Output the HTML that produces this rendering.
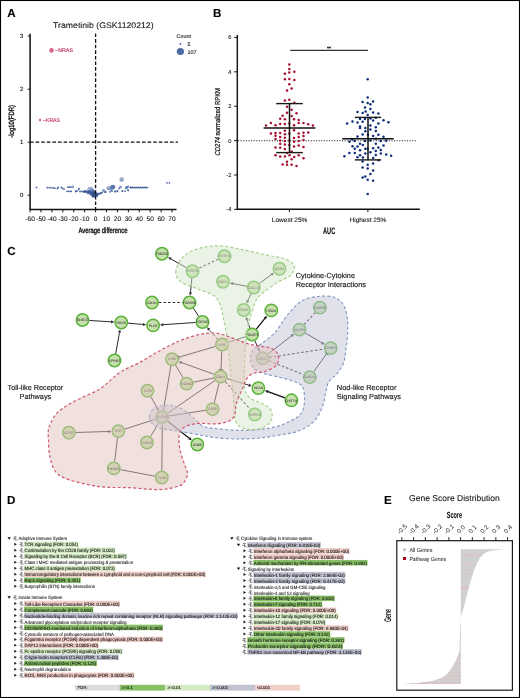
<!DOCTYPE html>
<html><head><meta charset="utf-8"><style>
html,body{margin:0;padding:0;background:#fff;overflow:hidden;width:520px;height:698px;}
svg{display:block;}
text{text-rendering:geometricPrecision;}
text{font-family:"Liberation Sans", sans-serif;}
</style></head><body>
<svg width="520" height="698" viewBox="0 0 520 698" font-family='"Liberation Sans", sans-serif' style="will-change:transform">
<rect x="0" y="0" width="520" height="698" fill="#fff"/>
<rect x="0.5" y="0.5" width="519" height="697" fill="none" stroke="#000" stroke-width="1.1"/>
<text x="7.20" y="17.30" font-size="11.6" fill="#000" stroke="#000" stroke-width="0.12" font-weight="bold">A</text>
<text x="53.10" y="27.90" font-size="8.2" fill="#111" stroke="#111" stroke-width="0.08" textLength="100.5" lengthAdjust="spacingAndGlyphs">Trametinib (GSK1120212)</text>
<line x1="30.10" y1="33.80" x2="30.10" y2="209.80" stroke="#2a2a2a" stroke-width="1.7"/>
<line x1="27.60" y1="36.00" x2="30.00" y2="36.00" stroke="#222" stroke-width="1.0"/>
<text x="23.40" y="38.10" font-size="6.0" fill="#222" stroke="#222" stroke-width="0.12" text-anchor="end">3</text>
<line x1="27.60" y1="89.20" x2="30.00" y2="89.20" stroke="#222" stroke-width="1.0"/>
<text x="23.40" y="91.30" font-size="6.0" fill="#222" stroke="#222" stroke-width="0.12" text-anchor="end">2</text>
<line x1="27.60" y1="142.20" x2="30.00" y2="142.20" stroke="#222" stroke-width="1.0"/>
<text x="23.40" y="144.30" font-size="6.0" fill="#222" stroke="#222" stroke-width="0.12" text-anchor="end">1</text>
<line x1="27.60" y1="195.20" x2="30.00" y2="195.20" stroke="#222" stroke-width="1.0"/>
<text x="23.40" y="197.30" font-size="6.0" fill="#222" stroke="#222" stroke-width="0.12" text-anchor="end">0</text>
<line x1="29.50" y1="209.40" x2="176.50" y2="209.40" stroke="#111" stroke-width="1.5"/>
<line x1="30.08" y1="209.50" x2="30.08" y2="212.30" stroke="#111" stroke-width="1.0"/>
<text x="30.08" y="221.40" font-size="6.6" fill="#222" stroke="#222" stroke-width="0.12" text-anchor="middle">-60</text>
<line x1="41.00" y1="209.50" x2="41.00" y2="212.30" stroke="#111" stroke-width="1.0"/>
<text x="41.00" y="221.40" font-size="6.6" fill="#222" stroke="#222" stroke-width="0.12" text-anchor="middle">-50</text>
<line x1="51.92" y1="209.50" x2="51.92" y2="212.30" stroke="#111" stroke-width="1.0"/>
<text x="51.92" y="221.40" font-size="6.6" fill="#222" stroke="#222" stroke-width="0.12" text-anchor="middle">-40</text>
<line x1="62.84" y1="209.50" x2="62.84" y2="212.30" stroke="#111" stroke-width="1.0"/>
<text x="62.84" y="221.40" font-size="6.6" fill="#222" stroke="#222" stroke-width="0.12" text-anchor="middle">-30</text>
<line x1="73.76" y1="209.50" x2="73.76" y2="212.30" stroke="#111" stroke-width="1.0"/>
<text x="73.76" y="221.40" font-size="6.6" fill="#222" stroke="#222" stroke-width="0.12" text-anchor="middle">-20</text>
<line x1="84.68" y1="209.50" x2="84.68" y2="212.30" stroke="#111" stroke-width="1.0"/>
<text x="84.68" y="221.40" font-size="6.6" fill="#222" stroke="#222" stroke-width="0.12" text-anchor="middle">-10</text>
<line x1="95.60" y1="209.50" x2="95.60" y2="212.30" stroke="#111" stroke-width="1.0"/>
<text x="95.60" y="221.40" font-size="6.6" fill="#222" stroke="#222" stroke-width="0.12" text-anchor="middle">0</text>
<line x1="106.52" y1="209.50" x2="106.52" y2="212.30" stroke="#111" stroke-width="1.0"/>
<text x="106.52" y="221.40" font-size="6.6" fill="#222" stroke="#222" stroke-width="0.12" text-anchor="middle">10</text>
<line x1="117.44" y1="209.50" x2="117.44" y2="212.30" stroke="#111" stroke-width="1.0"/>
<text x="117.44" y="221.40" font-size="6.6" fill="#222" stroke="#222" stroke-width="0.12" text-anchor="middle">20</text>
<line x1="128.36" y1="209.50" x2="128.36" y2="212.30" stroke="#111" stroke-width="1.0"/>
<text x="128.36" y="221.40" font-size="6.6" fill="#222" stroke="#222" stroke-width="0.12" text-anchor="middle">30</text>
<line x1="139.28" y1="209.50" x2="139.28" y2="212.30" stroke="#111" stroke-width="1.0"/>
<text x="139.28" y="221.40" font-size="6.6" fill="#222" stroke="#222" stroke-width="0.12" text-anchor="middle">40</text>
<line x1="150.20" y1="209.50" x2="150.20" y2="212.30" stroke="#111" stroke-width="1.0"/>
<text x="150.20" y="221.40" font-size="6.6" fill="#222" stroke="#222" stroke-width="0.12" text-anchor="middle">50</text>
<line x1="161.12" y1="209.50" x2="161.12" y2="212.30" stroke="#111" stroke-width="1.0"/>
<text x="161.12" y="221.40" font-size="6.6" fill="#222" stroke="#222" stroke-width="0.12" text-anchor="middle">60</text>
<line x1="172.04" y1="209.50" x2="172.04" y2="212.30" stroke="#111" stroke-width="1.0"/>
<text x="172.04" y="221.40" font-size="6.6" fill="#222" stroke="#222" stroke-width="0.12" text-anchor="middle">70</text>
<text x="78.40" y="233.40" font-size="7.8" fill="#111" stroke="#111" stroke-width="0.35" textLength="49.2" lengthAdjust="spacingAndGlyphs">Average difference</text>
<text transform="translate(14.4,121.3) rotate(-90)" font-size="7.6" text-anchor="middle" fill="#111" stroke="#111" stroke-width="0.35" textLength="32.8" lengthAdjust="spacingAndGlyphs">-log10(FDR)</text>
<text x="176.60" y="38.20" font-size="5.4" fill="#222" stroke="#222" stroke-width="0.12">Count</text>
<circle cx="180.40" cy="43.80" r="0.9" fill="#3d5a96"/>
<text x="187.60" y="46.00" font-size="5.4" fill="#222" stroke="#222" stroke-width="0.12">5</text>
<circle cx="180.40" cy="51.50" r="3.6" fill="#4f6ba3"/>
<text x="187.60" y="53.80" font-size="5.4" fill="#222" stroke="#222" stroke-width="0.12">107</text>
<circle cx="51.50" cy="50.40" r="2.3" fill="#d6678a"/>
<text x="55.20" y="52.40" font-size="5.3" fill="#c2325c" stroke="#c2325c" stroke-width="0.12" textLength="17.8" lengthAdjust="spacingAndGlyphs">–NRAS</text>
<circle cx="40.00" cy="120.00" r="1.2" fill="#d6678a"/>
<text x="43.10" y="122.00" font-size="5.3" fill="#c2325c" stroke="#c2325c" stroke-width="0.12" textLength="16.9" lengthAdjust="spacingAndGlyphs">–KRAS</text>
<line x1="131" y1="187.6" x2="147" y2="187.6" stroke="#4a67a2" stroke-width="0.8" stroke-opacity="0.8"/>
<circle cx="36.50" cy="187.50" r="0.9" fill="#3f5e9c" fill-opacity="0.9"/>
<circle cx="47.30" cy="187.70" r="0.9" fill="#3f5e9c" fill-opacity="0.9"/>
<circle cx="49.20" cy="187.70" r="0.9" fill="#3f5e9c" fill-opacity="0.9"/>
<circle cx="51.20" cy="187.70" r="0.9" fill="#3f5e9c" fill-opacity="0.9"/>
<circle cx="53.10" cy="187.90" r="0.9" fill="#3f5e9c" fill-opacity="0.9"/>
<circle cx="54.80" cy="188.20" r="0.9" fill="#3f5e9c" fill-opacity="0.9"/>
<circle cx="57.40" cy="188.50" r="0.9" fill="#3f5e9c" fill-opacity="0.9"/>
<circle cx="58.20" cy="187.50" r="0.9" fill="#3f5e9c" fill-opacity="0.9"/>
<circle cx="61.30" cy="187.50" r="0.9" fill="#3f5e9c" fill-opacity="0.9"/>
<circle cx="62.70" cy="188.50" r="0.9" fill="#3f5e9c" fill-opacity="0.9"/>
<circle cx="64.10" cy="189.10" r="0.9" fill="#3f5e9c" fill-opacity="0.9"/>
<circle cx="68.00" cy="187.20" r="0.9" fill="#3f5e9c" fill-opacity="0.9"/>
<circle cx="69.40" cy="187.20" r="0.9" fill="#3f5e9c" fill-opacity="0.9"/>
<circle cx="70.90" cy="187.20" r="0.9" fill="#3f5e9c" fill-opacity="0.9"/>
<circle cx="67.00" cy="191.30" r="0.9" fill="#3f5e9c" fill-opacity="0.9"/>
<circle cx="68.50" cy="191.30" r="0.9" fill="#3f5e9c" fill-opacity="0.9"/>
<circle cx="70.00" cy="191.30" r="0.9" fill="#3f5e9c" fill-opacity="0.9"/>
<circle cx="71.30" cy="191.30" r="0.9" fill="#3f5e9c" fill-opacity="0.9"/>
<circle cx="75.70" cy="191.50" r="0.9" fill="#3f5e9c" fill-opacity="0.9"/>
<circle cx="77.10" cy="191.10" r="0.9" fill="#3f5e9c" fill-opacity="0.9"/>
<circle cx="78.60" cy="189.60" r="0.9" fill="#3f5e9c" fill-opacity="0.9"/>
<circle cx="79.00" cy="188.60" r="0.9" fill="#3f5e9c" fill-opacity="0.9"/>
<circle cx="76.00" cy="191.20" r="0.9" fill="#3f5e9c" fill-opacity="0.9"/>
<circle cx="80.00" cy="191.50" r="0.9" fill="#3f5e9c" fill-opacity="0.9"/>
<circle cx="81.50" cy="191.40" r="0.9" fill="#3f5e9c" fill-opacity="0.9"/>
<circle cx="83.00" cy="191.60" r="0.9" fill="#3f5e9c" fill-opacity="0.9"/>
<circle cx="98.00" cy="193.40" r="0.9" fill="#3f5e9c" fill-opacity="0.9"/>
<circle cx="100.50" cy="192.90" r="0.9" fill="#3f5e9c" fill-opacity="0.9"/>
<circle cx="105.80" cy="192.00" r="0.9" fill="#3f5e9c" fill-opacity="0.9"/>
<circle cx="111.00" cy="190.00" r="0.9" fill="#3f5e9c" fill-opacity="0.9"/>
<circle cx="112.00" cy="191.00" r="0.9" fill="#3f5e9c" fill-opacity="0.9"/>
<circle cx="114.90" cy="191.50" r="0.9" fill="#3f5e9c" fill-opacity="0.9"/>
<circle cx="117.30" cy="191.00" r="0.9" fill="#3f5e9c" fill-opacity="0.9"/>
<circle cx="119.20" cy="188.60" r="0.9" fill="#3f5e9c" fill-opacity="0.9"/>
<circle cx="120.70" cy="187.10" r="0.9" fill="#3f5e9c" fill-opacity="0.9"/>
<circle cx="122.60" cy="191.00" r="0.9" fill="#3f5e9c" fill-opacity="0.9"/>
<circle cx="120.60" cy="187.10" r="0.9" fill="#3f5e9c" fill-opacity="0.9"/>
<circle cx="126.30" cy="187.10" r="0.9" fill="#3f5e9c" fill-opacity="0.9"/>
<circle cx="128.00" cy="186.50" r="0.9" fill="#3f5e9c" fill-opacity="0.9"/>
<circle cx="122.30" cy="191.10" r="0.9" fill="#3f5e9c" fill-opacity="0.9"/>
<circle cx="125.20" cy="191.10" r="0.9" fill="#3f5e9c" fill-opacity="0.9"/>
<circle cx="128.00" cy="190.00" r="0.9" fill="#3f5e9c" fill-opacity="0.9"/>
<circle cx="167.00" cy="182.80" r="0.9" fill="#3f5e9c" fill-opacity="0.9"/>
<circle cx="169.40" cy="182.80" r="0.9" fill="#3f5e9c" fill-opacity="0.9"/>
<circle cx="130.50" cy="187.40" r="0.8" fill="#3f5e9c" fill-opacity="0.9"/>
<circle cx="131.50" cy="187.70" r="0.8" fill="#3f5e9c" fill-opacity="0.9"/>
<circle cx="132.50" cy="187.40" r="0.8" fill="#3f5e9c" fill-opacity="0.9"/>
<circle cx="133.50" cy="187.70" r="0.8" fill="#3f5e9c" fill-opacity="0.9"/>
<circle cx="134.50" cy="187.40" r="0.8" fill="#3f5e9c" fill-opacity="0.9"/>
<circle cx="135.50" cy="187.70" r="0.8" fill="#3f5e9c" fill-opacity="0.9"/>
<circle cx="136.50" cy="187.40" r="0.8" fill="#3f5e9c" fill-opacity="0.9"/>
<circle cx="137.50" cy="187.70" r="0.8" fill="#3f5e9c" fill-opacity="0.9"/>
<circle cx="138.50" cy="187.40" r="0.8" fill="#3f5e9c" fill-opacity="0.9"/>
<circle cx="139.50" cy="187.70" r="0.8" fill="#3f5e9c" fill-opacity="0.9"/>
<circle cx="140.50" cy="187.40" r="0.8" fill="#3f5e9c" fill-opacity="0.9"/>
<circle cx="141.50" cy="187.70" r="0.8" fill="#3f5e9c" fill-opacity="0.9"/>
<circle cx="142.50" cy="187.40" r="0.8" fill="#3f5e9c" fill-opacity="0.9"/>
<circle cx="143.50" cy="187.70" r="0.8" fill="#3f5e9c" fill-opacity="0.9"/>
<circle cx="144.50" cy="187.40" r="0.8" fill="#3f5e9c" fill-opacity="0.9"/>
<circle cx="145.50" cy="187.70" r="0.8" fill="#3f5e9c" fill-opacity="0.9"/>
<circle cx="146.50" cy="187.40" r="0.8" fill="#3f5e9c" fill-opacity="0.9"/>
<circle cx="147.50" cy="187.70" r="0.8" fill="#3f5e9c" fill-opacity="0.9"/>
<circle cx="72.80" cy="186.90" r="1.4" fill="#6d86b8" fill-opacity="0.8"/>
<circle cx="84.60" cy="191.50" r="1.5" fill="#2f4f8e" fill-opacity="0.9"/>
<circle cx="86.50" cy="191.50" r="1.3" fill="#2f4f8e" fill-opacity="0.9"/>
<circle cx="90.40" cy="190.00" r="3.2" fill="#8ca0c8" fill-opacity="0.85"/>
<circle cx="92.30" cy="192.40" r="3.2" fill="#4d6aa3" fill-opacity="0.85"/>
<circle cx="94.20" cy="193.90" r="2.6" fill="#2b4a88" fill-opacity="0.9"/>
<circle cx="95.70" cy="194.80" r="2.0" fill="#27447f" fill-opacity="0.9"/>
<circle cx="103.80" cy="190.50" r="1.6" fill="#8ca0c8" fill-opacity="0.9"/>
<circle cx="108.70" cy="188.40" r="1.9" fill="#8ca0c8" fill-opacity="0.9"/>
<circle cx="113.00" cy="187.10" r="2.4" fill="#5b76ad" fill-opacity="0.9"/>
<circle cx="121.70" cy="179.60" r="2.3" fill="#8ca0c8" fill-opacity="0.9"/>
<circle cx="110.00" cy="188.00" r="1.2" fill="#8ca0c8" fill-opacity="0.9"/>
<circle cx="88.00" cy="192.60" r="1.6" fill="#2f4f8e" fill-opacity="0.8"/>
<circle cx="97.00" cy="195.50" r="1.2" fill="#2b4a88" fill-opacity="0.9"/>
<circle cx="97.50" cy="194.60" r="1.0" fill="#3a5a98" fill-opacity="0.9"/>
<circle cx="99.00" cy="194.00" r="1.0" fill="#3a5a98" fill-opacity="0.9"/>
<circle cx="100.50" cy="193.40" r="1.0" fill="#3a5a98" fill-opacity="0.9"/>
<circle cx="102.00" cy="192.80" r="1.0" fill="#3a5a98" fill-opacity="0.9"/>
<circle cx="103.50" cy="190.60" r="1.6" fill="#8ca0c8" fill-opacity="0.9"/>
<circle cx="105.00" cy="192.20" r="0.9" fill="#3a5a98" fill-opacity="0.9"/>
<circle cx="108.50" cy="188.30" r="2.0" fill="#8ca0c8" fill-opacity="0.9"/>
<circle cx="112.40" cy="187.20" r="2.3" fill="#5a78b0" fill-opacity="0.95"/>
<circle cx="110.00" cy="191.80" r="0.9" fill="#3a5a98" fill-opacity="0.9"/>
<circle cx="115.00" cy="191.40" r="0.9" fill="#3a5a98" fill-opacity="0.9"/>
<circle cx="117.40" cy="191.40" r="0.9" fill="#3a5a98" fill-opacity="0.9"/>
<circle cx="119.70" cy="187.50" r="1.3" fill="#8ca0c8" fill-opacity="0.9"/>
<circle cx="125.80" cy="188.30" r="0.9" fill="#3a5a98" fill-opacity="0.9"/>
<circle cx="127.00" cy="187.40" r="1.3" fill="#5a78b0" fill-opacity="0.9"/>
<circle cx="128.20" cy="190.60" r="0.8" fill="#3a5a98" fill-opacity="0.9"/>
<circle cx="130.50" cy="187.50" r="1.0" fill="#3a5a98" fill-opacity="0.9"/>
<circle cx="89.00" cy="191.80" r="1.4" fill="#2f4f8e" fill-opacity="0.85"/>
<circle cx="93.50" cy="195.50" r="2.2" fill="#2b4a88" fill-opacity="0.85"/>
<circle cx="91.00" cy="193.50" r="1.8" fill="#3a5a98" fill-opacity="0.85"/>
<line x1="95.60" y1="33.50" x2="95.60" y2="209.00" stroke="#111" stroke-width="1.3" stroke-dasharray="3.6,2"/>
<line x1="30.00" y1="142.20" x2="178.00" y2="142.20" stroke="#111" stroke-width="1.3" stroke-dasharray="3.6,2"/>
<text x="213.00" y="17.30" font-size="11.6" fill="#000" stroke="#000" stroke-width="0.12" font-weight="bold">B</text>
<line x1="237.30" y1="34.90" x2="237.30" y2="209.90" stroke="#1a1a1a" stroke-width="1.5"/>
<line x1="234.20" y1="37.46" x2="237.30" y2="37.46" stroke="#111" stroke-width="1.0"/>
<text x="231.40" y="39.46" font-size="5.7" fill="#222" stroke="#222" stroke-width="0.12" text-anchor="end">6</text>
<line x1="234.20" y1="71.84" x2="237.30" y2="71.84" stroke="#111" stroke-width="1.0"/>
<text x="231.40" y="73.84" font-size="5.7" fill="#222" stroke="#222" stroke-width="0.12" text-anchor="end">4</text>
<line x1="234.20" y1="106.22" x2="237.30" y2="106.22" stroke="#111" stroke-width="1.0"/>
<text x="231.40" y="108.22" font-size="5.7" fill="#222" stroke="#222" stroke-width="0.12" text-anchor="end">2</text>
<line x1="234.20" y1="140.60" x2="237.30" y2="140.60" stroke="#111" stroke-width="1.0"/>
<text x="231.40" y="142.60" font-size="5.7" fill="#222" stroke="#222" stroke-width="0.12" text-anchor="end">0</text>
<line x1="234.20" y1="174.98" x2="237.30" y2="174.98" stroke="#111" stroke-width="1.0"/>
<text x="231.40" y="176.98" font-size="5.7" fill="#222" stroke="#222" stroke-width="0.12" text-anchor="end">-2</text>
<line x1="234.20" y1="209.36" x2="237.30" y2="209.36" stroke="#111" stroke-width="1.0"/>
<text x="231.40" y="211.36" font-size="5.7" fill="#222" stroke="#222" stroke-width="0.12" text-anchor="end">-4</text>
<line x1="236.80" y1="209.30" x2="419.80" y2="209.30" stroke="#111" stroke-width="1.5"/>
<line x1="289.40" y1="209.30" x2="289.40" y2="212.00" stroke="#111" stroke-width="1.0"/>
<line x1="367.90" y1="209.30" x2="367.90" y2="212.00" stroke="#111" stroke-width="1.0"/>
<text x="289.60" y="221.60" font-size="6.3" fill="#222" stroke="#222" stroke-width="0.12" text-anchor="middle" textLength="35.5" lengthAdjust="spacingAndGlyphs">Lowest 25%</text>
<text x="367.90" y="221.60" font-size="6.3" fill="#222" stroke="#222" stroke-width="0.12" text-anchor="middle" textLength="36.8" lengthAdjust="spacingAndGlyphs">Highest 25%</text>
<text x="323.00" y="233.70" font-size="9.3" fill="#111" stroke="#111" stroke-width="0.12" font-weight="bold" textLength="12.2" lengthAdjust="spacingAndGlyphs">AUC</text>
<text transform="translate(219.8,121.7) rotate(-90)" font-size="7.2" text-anchor="middle" fill="#111" stroke="#111" stroke-width="0.25" textLength="67.4" lengthAdjust="spacingAndGlyphs"><tspan font-style="italic">CD274</tspan> normalized RPKM</text>
<line x1="238.00" y1="140.80" x2="416.50" y2="140.80" stroke="#222" stroke-width="1.1" stroke-dasharray="1.1,1.5"/>
<line x1="290.20" y1="50.40" x2="368.00" y2="50.40" stroke="#333" stroke-width="1.2"/>
<text x="329.00" y="49.60" font-size="5.0" fill="#222" stroke="#222" stroke-width="0.3" text-anchor="middle">**</text>
<circle cx="289.30" cy="64.40" r="1.25" fill="#a50e2e"/>
<circle cx="289.30" cy="69.10" r="1.25" fill="#a50e2e"/>
<circle cx="289.30" cy="72.50" r="1.25" fill="#a50e2e"/>
<circle cx="284.90" cy="73.80" r="1.25" fill="#a50e2e"/>
<circle cx="294.30" cy="71.80" r="1.25" fill="#a50e2e"/>
<circle cx="284.90" cy="79.20" r="1.25" fill="#a50e2e"/>
<circle cx="289.30" cy="79.00" r="1.25" fill="#a50e2e"/>
<circle cx="294.30" cy="79.90" r="1.25" fill="#a50e2e"/>
<circle cx="289.30" cy="84.30" r="1.25" fill="#a50e2e"/>
<circle cx="287.00" cy="90.40" r="1.25" fill="#a50e2e"/>
<circle cx="291.60" cy="88.60" r="1.25" fill="#a50e2e"/>
<circle cx="284.90" cy="100.50" r="1.25" fill="#a50e2e"/>
<circle cx="289.30" cy="99.80" r="1.25" fill="#a50e2e"/>
<circle cx="294.30" cy="102.80" r="1.25" fill="#a50e2e"/>
<circle cx="287.00" cy="106.70" r="1.25" fill="#a50e2e"/>
<circle cx="291.60" cy="109.70" r="1.25" fill="#a50e2e"/>
<circle cx="287.00" cy="112.80" r="1.25" fill="#a50e2e"/>
<circle cx="296.50" cy="113.20" r="1.25" fill="#a50e2e"/>
<circle cx="282.60" cy="115.70" r="1.25" fill="#a50e2e"/>
<circle cx="291.60" cy="115.90" r="1.25" fill="#a50e2e"/>
<circle cx="280.20" cy="118.80" r="1.25" fill="#a50e2e"/>
<circle cx="284.90" cy="119.20" r="1.25" fill="#a50e2e"/>
<circle cx="294.00" cy="119.20" r="1.25" fill="#a50e2e"/>
<circle cx="298.70" cy="119.90" r="1.25" fill="#a50e2e"/>
<circle cx="270.90" cy="122.90" r="1.25" fill="#a50e2e"/>
<circle cx="275.50" cy="125.20" r="1.25" fill="#a50e2e"/>
<circle cx="280.20" cy="124.00" r="1.25" fill="#a50e2e"/>
<circle cx="284.90" cy="124.00" r="1.25" fill="#a50e2e"/>
<circle cx="289.30" cy="123.60" r="1.25" fill="#a50e2e"/>
<circle cx="294.00" cy="125.20" r="1.25" fill="#a50e2e"/>
<circle cx="298.70" cy="122.90" r="1.25" fill="#a50e2e"/>
<circle cx="303.50" cy="122.90" r="1.25" fill="#a50e2e"/>
<circle cx="308.20" cy="124.20" r="1.25" fill="#a50e2e"/>
<circle cx="312.90" cy="125.60" r="1.25" fill="#a50e2e"/>
<circle cx="266.00" cy="125.60" r="1.25" fill="#a50e2e"/>
<circle cx="284.90" cy="130.70" r="1.25" fill="#a50e2e"/>
<circle cx="294.00" cy="130.30" r="1.25" fill="#a50e2e"/>
<circle cx="270.90" cy="133.60" r="1.25" fill="#a50e2e"/>
<circle cx="275.50" cy="133.00" r="1.25" fill="#a50e2e"/>
<circle cx="280.20" cy="133.00" r="1.25" fill="#a50e2e"/>
<circle cx="284.90" cy="134.30" r="1.25" fill="#a50e2e"/>
<circle cx="289.30" cy="133.60" r="1.25" fill="#a50e2e"/>
<circle cx="298.70" cy="133.60" r="1.25" fill="#a50e2e"/>
<circle cx="303.50" cy="132.70" r="1.25" fill="#a50e2e"/>
<circle cx="308.20" cy="132.60" r="1.25" fill="#a50e2e"/>
<circle cx="275.50" cy="135.70" r="1.25" fill="#a50e2e"/>
<circle cx="280.20" cy="137.00" r="1.25" fill="#a50e2e"/>
<circle cx="284.90" cy="137.70" r="1.25" fill="#a50e2e"/>
<circle cx="294.00" cy="138.00" r="1.25" fill="#a50e2e"/>
<circle cx="298.70" cy="137.00" r="1.25" fill="#a50e2e"/>
<circle cx="303.50" cy="136.00" r="1.25" fill="#a50e2e"/>
<circle cx="275.50" cy="139.00" r="1.25" fill="#a50e2e"/>
<circle cx="280.20" cy="140.40" r="1.25" fill="#a50e2e"/>
<circle cx="284.90" cy="141.00" r="1.25" fill="#a50e2e"/>
<circle cx="289.30" cy="140.40" r="1.25" fill="#a50e2e"/>
<circle cx="294.00" cy="141.70" r="1.25" fill="#a50e2e"/>
<circle cx="298.70" cy="141.00" r="1.25" fill="#a50e2e"/>
<circle cx="303.50" cy="140.10" r="1.25" fill="#a50e2e"/>
<circle cx="280.20" cy="143.70" r="1.25" fill="#a50e2e"/>
<circle cx="284.90" cy="144.40" r="1.25" fill="#a50e2e"/>
<circle cx="289.30" cy="145.10" r="1.25" fill="#a50e2e"/>
<circle cx="294.00" cy="146.40" r="1.25" fill="#a50e2e"/>
<circle cx="298.70" cy="145.50" r="1.25" fill="#a50e2e"/>
<circle cx="275.50" cy="147.40" r="1.25" fill="#a50e2e"/>
<circle cx="280.20" cy="147.80" r="1.25" fill="#a50e2e"/>
<circle cx="284.90" cy="149.10" r="1.25" fill="#a50e2e"/>
<circle cx="303.50" cy="147.10" r="1.25" fill="#a50e2e"/>
<circle cx="291.60" cy="151.40" r="1.25" fill="#a50e2e"/>
<circle cx="287.00" cy="153.10" r="1.25" fill="#a50e2e"/>
<circle cx="275.50" cy="155.30" r="1.25" fill="#a50e2e"/>
<circle cx="280.20" cy="156.60" r="1.25" fill="#a50e2e"/>
<circle cx="284.90" cy="156.60" r="1.25" fill="#a50e2e"/>
<circle cx="289.50" cy="155.30" r="1.25" fill="#a50e2e"/>
<circle cx="294.20" cy="157.10" r="1.25" fill="#a50e2e"/>
<circle cx="298.70" cy="155.30" r="1.25" fill="#a50e2e"/>
<circle cx="303.50" cy="158.20" r="1.25" fill="#a50e2e"/>
<circle cx="291.60" cy="159.20" r="1.25" fill="#a50e2e"/>
<circle cx="287.00" cy="161.80" r="1.25" fill="#a50e2e"/>
<circle cx="282.60" cy="164.40" r="1.25" fill="#a50e2e"/>
<circle cx="287.00" cy="164.80" r="1.25" fill="#a50e2e"/>
<circle cx="291.60" cy="164.80" r="1.25" fill="#a50e2e"/>
<circle cx="296.50" cy="165.90" r="1.25" fill="#a50e2e"/>
<circle cx="367.70" cy="79.20" r="1.25" fill="#0e2f78"/>
<circle cx="367.70" cy="97.60" r="1.25" fill="#0e2f78"/>
<circle cx="362.60" cy="101.90" r="1.25" fill="#0e2f78"/>
<circle cx="367.70" cy="103.00" r="1.25" fill="#0e2f78"/>
<circle cx="370.40" cy="104.30" r="1.25" fill="#0e2f78"/>
<circle cx="373.10" cy="101.40" r="1.25" fill="#0e2f78"/>
<circle cx="365.00" cy="107.40" r="1.25" fill="#0e2f78"/>
<circle cx="370.40" cy="109.00" r="1.25" fill="#0e2f78"/>
<circle cx="357.50" cy="112.10" r="1.25" fill="#0e2f78"/>
<circle cx="362.60" cy="113.10" r="1.25" fill="#0e2f78"/>
<circle cx="365.60" cy="111.50" r="1.25" fill="#0e2f78"/>
<circle cx="373.10" cy="112.40" r="1.25" fill="#0e2f78"/>
<circle cx="367.70" cy="115.10" r="1.25" fill="#0e2f78"/>
<circle cx="378.40" cy="113.50" r="1.25" fill="#0e2f78"/>
<circle cx="375.80" cy="117.80" r="1.25" fill="#0e2f78"/>
<circle cx="360.00" cy="119.10" r="1.25" fill="#0e2f78"/>
<circle cx="365.00" cy="119.10" r="1.25" fill="#0e2f78"/>
<circle cx="370.40" cy="118.50" r="1.25" fill="#0e2f78"/>
<circle cx="352.50" cy="121.40" r="1.25" fill="#0e2f78"/>
<circle cx="357.50" cy="122.50" r="1.25" fill="#0e2f78"/>
<circle cx="362.60" cy="121.80" r="1.25" fill="#0e2f78"/>
<circle cx="373.10" cy="120.50" r="1.25" fill="#0e2f78"/>
<circle cx="383.50" cy="120.20" r="1.25" fill="#0e2f78"/>
<circle cx="347.10" cy="123.60" r="1.25" fill="#0e2f78"/>
<circle cx="378.40" cy="123.60" r="1.25" fill="#0e2f78"/>
<circle cx="388.50" cy="122.20" r="1.25" fill="#0e2f78"/>
<circle cx="370.40" cy="125.50" r="1.25" fill="#0e2f78"/>
<circle cx="360.00" cy="126.50" r="1.25" fill="#0e2f78"/>
<circle cx="360.00" cy="128.10" r="1.25" fill="#0e2f78"/>
<circle cx="365.30" cy="127.90" r="1.25" fill="#0e2f78"/>
<circle cx="375.80" cy="127.20" r="1.25" fill="#0e2f78"/>
<circle cx="370.40" cy="129.60" r="1.25" fill="#0e2f78"/>
<circle cx="365.30" cy="131.20" r="1.25" fill="#0e2f78"/>
<circle cx="375.80" cy="131.00" r="1.25" fill="#0e2f78"/>
<circle cx="362.60" cy="134.40" r="1.25" fill="#0e2f78"/>
<circle cx="368.00" cy="134.70" r="1.25" fill="#0e2f78"/>
<circle cx="378.40" cy="134.70" r="1.25" fill="#0e2f78"/>
<circle cx="357.50" cy="136.50" r="1.25" fill="#0e2f78"/>
<circle cx="373.10" cy="136.00" r="1.25" fill="#0e2f78"/>
<circle cx="383.50" cy="136.70" r="1.25" fill="#0e2f78"/>
<circle cx="352.10" cy="139.20" r="1.25" fill="#0e2f78"/>
<circle cx="375.80" cy="138.70" r="1.25" fill="#0e2f78"/>
<circle cx="349.40" cy="141.80" r="1.25" fill="#0e2f78"/>
<circle cx="354.80" cy="141.00" r="1.25" fill="#0e2f78"/>
<circle cx="365.00" cy="141.00" r="1.25" fill="#0e2f78"/>
<circle cx="370.40" cy="140.50" r="1.25" fill="#0e2f78"/>
<circle cx="380.80" cy="141.00" r="1.25" fill="#0e2f78"/>
<circle cx="386.20" cy="140.80" r="1.25" fill="#0e2f78"/>
<circle cx="360.00" cy="143.70" r="1.25" fill="#0e2f78"/>
<circle cx="352.50" cy="146.20" r="1.25" fill="#0e2f78"/>
<circle cx="357.50" cy="146.40" r="1.25" fill="#0e2f78"/>
<circle cx="362.90" cy="145.10" r="1.25" fill="#0e2f78"/>
<circle cx="375.80" cy="143.70" r="1.25" fill="#0e2f78"/>
<circle cx="383.50" cy="145.50" r="1.25" fill="#0e2f78"/>
<circle cx="354.80" cy="148.80" r="1.25" fill="#0e2f78"/>
<circle cx="365.30" cy="148.80" r="1.25" fill="#0e2f78"/>
<circle cx="373.10" cy="148.20" r="1.25" fill="#0e2f78"/>
<circle cx="378.40" cy="147.50" r="1.25" fill="#0e2f78"/>
<circle cx="380.80" cy="149.90" r="1.25" fill="#0e2f78"/>
<circle cx="360.00" cy="150.20" r="1.25" fill="#0e2f78"/>
<circle cx="367.70" cy="148.80" r="1.25" fill="#0e2f78"/>
<circle cx="375.80" cy="150.90" r="1.25" fill="#0e2f78"/>
<circle cx="349.40" cy="153.10" r="1.25" fill="#0e2f78"/>
<circle cx="354.80" cy="152.90" r="1.25" fill="#0e2f78"/>
<circle cx="365.30" cy="153.60" r="1.25" fill="#0e2f78"/>
<circle cx="370.40" cy="152.20" r="1.25" fill="#0e2f78"/>
<circle cx="380.80" cy="153.60" r="1.25" fill="#0e2f78"/>
<circle cx="386.20" cy="154.50" r="1.25" fill="#0e2f78"/>
<circle cx="344.40" cy="156.20" r="1.25" fill="#0e2f78"/>
<circle cx="360.00" cy="155.30" r="1.25" fill="#0e2f78"/>
<circle cx="375.80" cy="154.90" r="1.25" fill="#0e2f78"/>
<circle cx="391.10" cy="155.80" r="1.25" fill="#0e2f78"/>
<circle cx="357.50" cy="157.20" r="1.25" fill="#0e2f78"/>
<circle cx="362.90" cy="157.60" r="1.25" fill="#0e2f78"/>
<circle cx="373.10" cy="158.00" r="1.25" fill="#0e2f78"/>
<circle cx="378.50" cy="160.30" r="1.25" fill="#0e2f78"/>
<circle cx="362.60" cy="161.60" r="1.25" fill="#0e2f78"/>
<circle cx="373.10" cy="163.40" r="1.25" fill="#0e2f78"/>
<circle cx="367.70" cy="164.70" r="1.25" fill="#0e2f78"/>
<circle cx="362.60" cy="167.40" r="1.25" fill="#0e2f78"/>
<circle cx="367.70" cy="168.40" r="1.25" fill="#0e2f78"/>
<circle cx="373.10" cy="170.40" r="1.25" fill="#0e2f78"/>
<circle cx="370.40" cy="174.00" r="1.25" fill="#0e2f78"/>
<circle cx="362.60" cy="177.40" r="1.25" fill="#0e2f78"/>
<circle cx="365.30" cy="176.40" r="1.25" fill="#0e2f78"/>
<circle cx="367.70" cy="179.80" r="1.25" fill="#0e2f78"/>
<circle cx="373.10" cy="180.70" r="1.25" fill="#0e2f78"/>
<circle cx="367.70" cy="193.90" r="1.25" fill="#0e2f78"/>
<line x1="263.60" y1="128.00" x2="315.40" y2="128.00" stroke="#111" stroke-width="1.6"/>
<line x1="276.20" y1="103.60" x2="302.80" y2="103.60" stroke="#1a1a1a" stroke-width="1.4"/>
<line x1="276.20" y1="152.60" x2="302.80" y2="152.60" stroke="#1a1a1a" stroke-width="1.4"/>
<line x1="289.50" y1="103.60" x2="289.50" y2="152.60" stroke="#111" stroke-width="1.5"/>
<line x1="342.25" y1="138.80" x2="393.75" y2="138.80" stroke="#111" stroke-width="1.6"/>
<line x1="354.85" y1="117.40" x2="381.15" y2="117.40" stroke="#1a1a1a" stroke-width="1.4"/>
<line x1="354.85" y1="159.90" x2="381.15" y2="159.90" stroke="#1a1a1a" stroke-width="1.4"/>
<line x1="368.00" y1="117.40" x2="368.00" y2="159.90" stroke="#111" stroke-width="1.5"/>
<text x="7.30" y="255.40" font-size="11.6" fill="#000" stroke="#000" stroke-width="0.12" font-weight="bold">C</text>
<text x="295.70" y="277.80" font-size="7.3" fill="#1a1a1a" stroke="#1a1a1a" stroke-width="0.15" textLength="59.3" lengthAdjust="spacingAndGlyphs">Cytokine-Cytokine</text>
<text x="295.70" y="287.10" font-size="7.3" fill="#1a1a1a" stroke="#1a1a1a" stroke-width="0.15" textLength="70.3" lengthAdjust="spacingAndGlyphs">Receptor Interactions</text>
<text x="35.40" y="390.20" font-size="7.3" fill="#1a1a1a" stroke="#1a1a1a" stroke-width="0.15" text-anchor="middle" textLength="55.8" lengthAdjust="spacingAndGlyphs">Toll-like Receptor</text>
<text x="35.40" y="399.30" font-size="7.3" fill="#1a1a1a" stroke="#1a1a1a" stroke-width="0.15" text-anchor="middle" textLength="31.7" lengthAdjust="spacingAndGlyphs">Pathways</text>
<text x="336.80" y="390.00" font-size="7.3" fill="#1a1a1a" stroke="#1a1a1a" stroke-width="0.15" textLength="59.6" lengthAdjust="spacingAndGlyphs">Nod-like Receptor</text>
<text x="336.80" y="399.10" font-size="7.3" fill="#1a1a1a" stroke="#1a1a1a" stroke-width="0.15" textLength="64.2" lengthAdjust="spacingAndGlyphs">Signaling Pathways</text>
<line x1="186.60" y1="267.87" x2="170.85" y2="258.83" stroke="#2b2b2b" stroke-width="1.0"/>
<path d="M168.07,257.23 L171.64,257.44 L170.05,260.21Z" fill="#2b2b2b"/>
<line x1="218.34" y1="259.14" x2="198.84" y2="268.28" stroke="#2b2b2b" stroke-width="1.1" stroke-dasharray="2.6,2"/>
<line x1="191.85" y1="278.02" x2="190.47" y2="292.35" stroke="#2b2b2b" stroke-width="1.0"/>
<path d="M190.17,295.53 L188.88,292.19 L192.07,292.50Z" fill="#2b2b2b"/>
<line x1="158.80" y1="302.50" x2="182.50" y2="302.50" stroke="#2b2b2b" stroke-width="1.1" stroke-dasharray="2.6,2"/>
<line x1="193.27" y1="308.16" x2="198.62" y2="316.18" stroke="#2b2b2b" stroke-width="1.0"/>
<line x1="195.72" y1="322.47" x2="163.28" y2="324.70" stroke="#2b2b2b" stroke-width="1.0"/>
<path d="M160.08,324.92 L163.17,323.10 L163.39,326.30Z" fill="#2b2b2b"/>
<line x1="89.29" y1="320.44" x2="111.07" y2="321.84" stroke="#2b2b2b" stroke-width="1.0"/>
<path d="M114.26,322.05 L110.97,323.44 L111.17,320.25Z" fill="#2b2b2b"/>
<line x1="128.02" y1="323.12" x2="142.94" y2="324.48" stroke="#2b2b2b" stroke-width="1.0"/>
<path d="M146.13,324.77 L142.80,326.07 L143.09,322.88Z" fill="#2b2b2b"/>
<line x1="115.69" y1="353.80" x2="119.47" y2="332.54" stroke="#2b2b2b" stroke-width="1.0"/>
<path d="M120.03,329.39 L121.04,332.82 L117.89,332.26Z" fill="#2b2b2b"/>
<line x1="247.07" y1="286.25" x2="233.03" y2="283.62" stroke="#2b2b2b" stroke-width="1.0"/>
<path d="M229.88,283.04 L233.32,282.05 L232.73,285.20Z" fill="#2b2b2b"/>
<line x1="259.25" y1="283.50" x2="271.25" y2="274.75" stroke="#2b2b2b" stroke-width="1.0"/>
<path d="M273.84,272.87 L272.20,276.05 L270.31,273.46Z" fill="#2b2b2b"/>
<line x1="250.99" y1="293.71" x2="247.89" y2="300.68" stroke="#2b2b2b" stroke-width="1.0"/>
<path d="M246.59,303.60 L246.43,300.03 L249.35,301.33Z" fill="#2b2b2b"/>
<line x1="249.91" y1="328.06" x2="247.04" y2="319.65" stroke="#2b2b2b" stroke-width="1.0"/>
<path d="M246.01,316.63 L248.55,319.14 L245.53,320.17Z" fill="#2b2b2b"/>
<line x1="256.34" y1="329.18" x2="264.94" y2="318.38" stroke="#111" stroke-width="1.3"/>
<path d="M266.94,315.87 L266.20,319.37 L263.69,317.38Z" fill="#111"/>
<line x1="245.65" y1="336.64" x2="228.64" y2="342.29" stroke="#2b2b2b" stroke-width="1.0"/>
<line x1="254.84" y1="340.72" x2="258.48" y2="348.97" stroke="#2b2b2b" stroke-width="1.0"/>
<path d="M259.77,351.90 L257.02,349.61 L259.95,348.32Z" fill="#2b2b2b"/>
<line x1="217.55" y1="339.36" x2="209.18" y2="329.71" stroke="#2b2b2b" stroke-width="1.0" stroke-dasharray="2.6,2"/>
<path d="M207.08,327.29 L210.39,328.66 L207.97,330.76Z" fill="#2b2b2b"/>
<line x1="215.48" y1="346.42" x2="178.71" y2="357.27" stroke="#2b2b2b" stroke-width="1.0"/>
<line x1="178.09" y1="355.16" x2="179.34" y2="359.38" stroke="#2b2b2b" stroke-width="1.0"/>
<line x1="221.72" y1="351.29" x2="220.98" y2="369.61" stroke="#2b2b2b" stroke-width="1.0"/>
<line x1="218.79" y1="369.52" x2="223.18" y2="369.69" stroke="#2b2b2b" stroke-width="1.0"/>
<line x1="214.29" y1="374.32" x2="181.61" y2="362.67" stroke="#2b2b2b" stroke-width="1.0"/>
<path d="M178.59,361.60 L182.15,361.17 L181.07,364.18Z" fill="#2b2b2b"/>
<line x1="214.04" y1="377.97" x2="193.46" y2="382.19" stroke="#2b2b2b" stroke-width="1.0"/>
<line x1="175.50" y1="365.08" x2="183.00" y2="377.60" stroke="#2b2b2b" stroke-width="1.0"/>
<line x1="219.06" y1="383.20" x2="214.29" y2="402.41" stroke="#2b2b2b" stroke-width="1.0"/>
<line x1="215.11" y1="380.47" x2="168.06" y2="413.02" stroke="#2b2b2b" stroke-width="1.0"/>
<line x1="205.88" y1="410.24" x2="169.22" y2="415.93" stroke="#2b2b2b" stroke-width="1.0"/>
<line x1="170.87" y1="365.96" x2="163.46" y2="410.10" stroke="#2b2b2b" stroke-width="1.0"/>
<line x1="150.84" y1="396.67" x2="157.29" y2="408.11" stroke="#2b2b2b" stroke-width="1.0"/>
<path d="M158.86,410.90 L155.90,408.90 L158.68,407.33Z" fill="#2b2b2b"/>
<line x1="150.50" y1="436.67" x2="158.70" y2="423.00" stroke="#2b2b2b" stroke-width="1.0"/>
<line x1="124.77" y1="429.11" x2="155.64" y2="419.15" stroke="#2b2b2b" stroke-width="1.0"/>
<line x1="75.70" y1="432.49" x2="108.10" y2="431.51" stroke="#2b2b2b" stroke-width="1.0"/>
<path d="M111.30,431.41 L108.15,433.11 L108.06,429.91Z" fill="#2b2b2b"/>
<line x1="117.48" y1="437.95" x2="114.64" y2="461.45" stroke="#2b2b2b" stroke-width="1.0"/>
<line x1="120.48" y1="469.67" x2="154.92" y2="476.20" stroke="#2b2b2b" stroke-width="1.0"/>
<line x1="161.86" y1="470.70" x2="162.24" y2="424.00" stroke="#2b2b2b" stroke-width="1.0"/>
<line x1="167.65" y1="421.20" x2="189.28" y2="438.20" stroke="#111" stroke-width="1.3"/>
<path d="M191.80,440.18 L188.29,439.46 L190.27,436.94Z" fill="#111"/>
<line x1="225.26" y1="381.65" x2="250.21" y2="409.30" stroke="#2b2b2b" stroke-width="1.1" stroke-dasharray="2.6,2"/>
<line x1="285.02" y1="397.94" x2="267.97" y2="391.64" stroke="#111" stroke-width="1.3"/>
<path d="M264.97,390.53 L268.52,390.14 L267.41,393.14Z" fill="#111"/>
<line x1="227.20" y1="378.58" x2="248.64" y2="385.12" stroke="#2b2b2b" stroke-width="1.0"/>
<path d="M251.70,386.06 L248.18,386.65 L249.11,383.59Z" fill="#2b2b2b"/>
<line x1="267.97" y1="354.13" x2="291.45" y2="335.86" stroke="#2b2b2b" stroke-width="1.0"/>
<path d="M293.97,333.90 L292.43,337.13 L290.47,334.60Z" fill="#2b2b2b"/>
<line x1="315.28" y1="312.59" x2="304.26" y2="324.47" stroke="#2b2b2b" stroke-width="1.1" stroke-dasharray="2.6,2"/>
<line x1="305.35" y1="333.07" x2="321.93" y2="342.90" stroke="#2b2b2b" stroke-width="1.0"/>
<path d="M324.68,344.53 L321.11,344.27 L322.74,341.52Z" fill="#2b2b2b"/>
<line x1="269.32" y1="357.29" x2="323.78" y2="349.14" stroke="#2b2b2b" stroke-width="1.1" stroke-dasharray="2.6,2"/>
<line x1="268.92" y1="360.82" x2="303.30" y2="374.51" stroke="#2b2b2b" stroke-width="1.1" stroke-dasharray="2.6,2"/>
<line x1="313.78" y1="371.58" x2="326.61" y2="353.78" stroke="#2b2b2b" stroke-width="1.0"/>
<line x1="328.39" y1="355.07" x2="324.82" y2="352.49" stroke="#2b2b2b" stroke-width="1.0"/>
<circle cx="162.00" cy="253.75" r="6.2" fill="#c6e0ab" stroke="#5ab33a" stroke-width="1.5"/>
<text x="162.00" y="254.95" font-size="3.4" fill="#333333" stroke="#333333" stroke-width="0.05" text-anchor="middle" textLength="12.4" lengthAdjust="spacingAndGlyphs">FCGR2C</text>
<circle cx="152.00" cy="302.50" r="6.2" fill="#c6e0ab" stroke="#5ab33a" stroke-width="1.5"/>
<text x="152.00" y="303.70" font-size="3.4" fill="#333333" stroke="#333333" stroke-width="0.05" text-anchor="middle" textLength="9.26" lengthAdjust="spacingAndGlyphs">CD1D</text>
<circle cx="189.50" cy="302.50" r="6.2" fill="#c6e0ab" stroke="#5ab33a" stroke-width="1.5"/>
<text x="189.50" y="303.70" font-size="3.4" fill="#333333" stroke="#333333" stroke-width="0.05" text-anchor="middle" textLength="12.4" lengthAdjust="spacingAndGlyphs">FCGR3B</text>
<circle cx="202.50" cy="322.00" r="6.2" fill="#c6e0ab" stroke="#5ab33a" stroke-width="1.5"/>
<text x="202.50" y="323.20" font-size="3.4" fill="#333333" stroke="#333333" stroke-width="0.05" text-anchor="middle" textLength="12.4" lengthAdjust="spacingAndGlyphs">FCER1G</text>
<circle cx="153.10" cy="325.40" r="6.2" fill="#c6e0ab" stroke="#5ab33a" stroke-width="1.5"/>
<text x="153.10" y="326.60" font-size="3.4" fill="#333333" stroke="#333333" stroke-width="0.05" text-anchor="middle" textLength="8.5" lengthAdjust="spacingAndGlyphs">PLD2</text>
<circle cx="121.25" cy="322.50" r="6.2" fill="#c6e0ab" stroke="#5ab33a" stroke-width="1.5"/>
<text x="121.25" y="323.70" font-size="3.4" fill="#333333" stroke="#333333" stroke-width="0.05" text-anchor="middle" textLength="9.45" lengthAdjust="spacingAndGlyphs">RRAS</text>
<circle cx="82.50" cy="320.00" r="6.2" fill="#c6e0ab" stroke="#5ab33a" stroke-width="1.5"/>
<text x="82.50" y="321.20" font-size="3.4" fill="#333333" stroke="#333333" stroke-width="0.05" text-anchor="middle" textLength="11.71" lengthAdjust="spacingAndGlyphs">GNGT2</text>
<circle cx="114.50" cy="360.50" r="6.2" fill="#c6e0ab" stroke="#5ab33a" stroke-width="1.5"/>
<text x="114.50" y="361.70" font-size="3.4" fill="#333333" stroke="#333333" stroke-width="0.05" text-anchor="middle" textLength="11.15" lengthAdjust="spacingAndGlyphs">EPHB2</text>
<circle cx="271.30" cy="310.40" r="6.2" fill="#c6e0ab" stroke="#5ab33a" stroke-width="1.5"/>
<text x="271.30" y="311.60" font-size="3.4" fill="#333333" stroke="#333333" stroke-width="0.05" text-anchor="middle" textLength="10.2" lengthAdjust="spacingAndGlyphs">ITGAX</text>
<circle cx="252.10" cy="334.50" r="6.2" fill="#c6e0ab" stroke="#5ab33a" stroke-width="1.5"/>
<text x="252.10" y="335.70" font-size="3.4" fill="#333333" stroke="#333333" stroke-width="0.05" text-anchor="middle" textLength="12.4" lengthAdjust="spacingAndGlyphs">POU2F2</text>
<circle cx="258.40" cy="388.10" r="6.2" fill="#c6e0ab" stroke="#5ab33a" stroke-width="1.5"/>
<text x="258.40" y="389.30" font-size="3.4" fill="#333333" stroke="#333333" stroke-width="0.05" text-anchor="middle" textLength="9.45" lengthAdjust="spacingAndGlyphs">VCAN</text>
<circle cx="291.40" cy="400.30" r="6.2" fill="#c6e0ab" stroke="#5ab33a" stroke-width="1.5"/>
<text x="291.40" y="401.50" font-size="3.4" fill="#333333" stroke="#333333" stroke-width="0.05" text-anchor="middle" textLength="12.4" lengthAdjust="spacingAndGlyphs">CHST11</text>
<circle cx="197.30" cy="444.50" r="6.2" fill="#c6e0ab" stroke="#5ab33a" stroke-width="1.5"/>
<text x="197.30" y="445.70" font-size="3.4" fill="#333333" stroke="#333333" stroke-width="0.05" text-anchor="middle" textLength="8.69" lengthAdjust="spacingAndGlyphs">CD86</text>
<circle cx="224.50" cy="256.25" r="6.2" fill="#c6e0ab" stroke="#5ab33a" stroke-width="1.5"/>
<text x="224.50" y="257.45" font-size="3.4" fill="#333333" stroke="#333333" stroke-width="0.05" text-anchor="middle" textLength="12.4" lengthAdjust="spacingAndGlyphs">TNFSF13</text>
<circle cx="192.50" cy="271.25" r="6.2" fill="#c6e0ab" stroke="#5ab33a" stroke-width="1.5"/>
<text x="192.50" y="272.45" font-size="3.4" fill="#333333" stroke="#333333" stroke-width="0.05" text-anchor="middle" textLength="12.4" lengthAdjust="spacingAndGlyphs">TNFRSF13A</text>
<circle cx="223.00" cy="281.75" r="6.2" fill="#c6e0ab" stroke="#5ab33a" stroke-width="1.5"/>
<text x="223.00" y="282.95" font-size="3.4" fill="#333333" stroke="#333333" stroke-width="0.05" text-anchor="middle" textLength="9.26" lengthAdjust="spacingAndGlyphs">CCR1</text>
<circle cx="253.75" cy="287.50" r="6.2" fill="#c6e0ab" stroke="#5ab33a" stroke-width="1.5"/>
<text x="253.75" y="288.70" font-size="3.4" fill="#333333" stroke="#333333" stroke-width="0.05" text-anchor="middle" textLength="12.4" lengthAdjust="spacingAndGlyphs">CXCL16</text>
<circle cx="279.50" cy="268.75" r="6.2" fill="#c6e0ab" stroke="#5ab33a" stroke-width="1.5"/>
<text x="279.50" y="269.95" font-size="3.4" fill="#333333" stroke="#333333" stroke-width="0.05" text-anchor="middle" textLength="9.26" lengthAdjust="spacingAndGlyphs">CCR3</text>
<circle cx="243.75" cy="310.00" r="6.2" fill="#c6e0ab" stroke="#5ab33a" stroke-width="1.5"/>
<text x="243.75" y="311.20" font-size="3.4" fill="#333333" stroke="#333333" stroke-width="0.05" text-anchor="middle" textLength="9.26" lengthAdjust="spacingAndGlyphs">CCR5</text>
<circle cx="254.90" cy="414.50" r="6.2" fill="#c6e0ab" stroke="#5ab33a" stroke-width="1.5"/>
<text x="254.90" y="415.70" font-size="3.4" fill="#333333" stroke="#333333" stroke-width="0.05" text-anchor="middle" textLength="12.4" lengthAdjust="spacingAndGlyphs">TNFRSF1B</text>
<circle cx="319.90" cy="307.60" r="6.2" fill="#c6e0ab" stroke="#5ab33a" stroke-width="1.5"/>
<text x="319.90" y="308.80" font-size="3.4" fill="#333333" stroke="#333333" stroke-width="0.05" text-anchor="middle" textLength="11.15" lengthAdjust="spacingAndGlyphs">CASP8</text>
<circle cx="299.50" cy="329.60" r="6.2" fill="#c6e0ab" stroke="#5ab33a" stroke-width="1.5"/>
<text x="299.50" y="330.80" font-size="3.4" fill="#333333" stroke="#333333" stroke-width="0.05" text-anchor="middle" textLength="10.96" lengthAdjust="spacingAndGlyphs">NLRP1</text>
<circle cx="330.70" cy="348.10" r="6.2" fill="#c6e0ab" stroke="#5ab33a" stroke-width="1.5"/>
<text x="330.70" y="349.30" font-size="3.4" fill="#333333" stroke="#333333" stroke-width="0.05" text-anchor="middle" textLength="11.15" lengthAdjust="spacingAndGlyphs">CASP1</text>
<circle cx="309.80" cy="377.10" r="6.2" fill="#c6e0ab" stroke="#5ab33a" stroke-width="1.5"/>
<text x="309.80" y="378.30" font-size="3.4" fill="#333333" stroke="#333333" stroke-width="0.05" text-anchor="middle" textLength="12.4" lengthAdjust="spacingAndGlyphs">CARD11</text>
<circle cx="222.00" cy="344.50" r="6.2" fill="#c6e0ab" stroke="#5ab33a" stroke-width="1.5"/>
<text x="222.00" y="345.70" font-size="3.4" fill="#333333" stroke="#333333" stroke-width="0.05" text-anchor="middle" textLength="6.36" lengthAdjust="spacingAndGlyphs">LYN</text>
<circle cx="172.00" cy="359.25" r="6.2" fill="#c6e0ab" stroke="#5ab33a" stroke-width="1.5"/>
<text x="172.00" y="360.45" font-size="3.4" fill="#333333" stroke="#333333" stroke-width="0.05" text-anchor="middle" textLength="7.69" lengthAdjust="spacingAndGlyphs">LY96</text>
<circle cx="186.60" cy="383.60" r="6.2" fill="#c6e0ab" stroke="#5ab33a" stroke-width="1.5"/>
<text x="186.60" y="384.80" font-size="3.4" fill="#333333" stroke="#333333" stroke-width="0.05" text-anchor="middle" textLength="12.4" lengthAdjust="spacingAndGlyphs">TICAM2</text>
<circle cx="220.70" cy="376.60" r="6.2" fill="#c6e0ab" stroke="#5ab33a" stroke-width="1.5"/>
<text x="220.70" y="377.80" font-size="3.4" fill="#333333" stroke="#333333" stroke-width="0.05" text-anchor="middle" textLength="8.69" lengthAdjust="spacingAndGlyphs">CD14</text>
<circle cx="212.60" cy="409.20" r="6.2" fill="#c6e0ab" stroke="#5ab33a" stroke-width="1.5"/>
<text x="212.60" y="410.40" font-size="3.4" fill="#333333" stroke="#333333" stroke-width="0.05" text-anchor="middle" textLength="8.69" lengthAdjust="spacingAndGlyphs">CD36</text>
<circle cx="162.30" cy="417.00" r="6.2" fill="#c6e0ab" stroke="#5ab33a" stroke-width="1.5"/>
<text x="162.30" y="418.20" font-size="3.4" fill="#333333" stroke="#333333" stroke-width="0.05" text-anchor="middle" textLength="11.34" lengthAdjust="spacingAndGlyphs">MYD88</text>
<circle cx="147.50" cy="390.75" r="6.2" fill="#c6e0ab" stroke="#5ab33a" stroke-width="1.5"/>
<text x="147.50" y="391.95" font-size="3.4" fill="#333333" stroke="#333333" stroke-width="0.05" text-anchor="middle" textLength="8.31" lengthAdjust="spacingAndGlyphs">TLR5</text>
<circle cx="118.30" cy="431.20" r="6.2" fill="#c6e0ab" stroke="#5ab33a" stroke-width="1.5"/>
<text x="118.30" y="432.40" font-size="3.4" fill="#333333" stroke="#333333" stroke-width="0.05" text-anchor="middle" textLength="8.31" lengthAdjust="spacingAndGlyphs">TLR7</text>
<circle cx="147.00" cy="442.50" r="6.2" fill="#c6e0ab" stroke="#5ab33a" stroke-width="1.5"/>
<text x="147.00" y="443.70" font-size="3.4" fill="#333333" stroke="#333333" stroke-width="0.05" text-anchor="middle" textLength="10.2" lengthAdjust="spacingAndGlyphs">TLR10</text>
<circle cx="68.90" cy="432.70" r="6.2" fill="#c6e0ab" stroke="#5ab33a" stroke-width="1.5"/>
<text x="68.90" y="433.90" font-size="3.4" fill="#333333" stroke="#333333" stroke-width="0.05" text-anchor="middle" textLength="9.07" lengthAdjust="spacingAndGlyphs">CTSS</text>
<circle cx="113.80" cy="468.40" r="6.2" fill="#c6e0ab" stroke="#5ab33a" stroke-width="1.5"/>
<text x="113.80" y="469.60" font-size="3.4" fill="#333333" stroke="#333333" stroke-width="0.05" text-anchor="middle" textLength="12.4" lengthAdjust="spacingAndGlyphs">PIK3CG</text>
<circle cx="161.80" cy="477.50" r="6.2" fill="#c6e0ab" stroke="#5ab33a" stroke-width="1.5"/>
<text x="161.80" y="478.70" font-size="3.4" fill="#333333" stroke="#333333" stroke-width="0.05" text-anchor="middle" textLength="8.31" lengthAdjust="spacingAndGlyphs">TLR8</text>
<circle cx="262.60" cy="358.30" r="6.2" fill="#c6e0ab" stroke="#5ab33a" stroke-width="1.5"/>
<text x="262.60" y="359.50" font-size="3.4" fill="#333333" stroke="#333333" stroke-width="0.05" text-anchor="middle" textLength="9.45" lengthAdjust="spacingAndGlyphs">NOD2</text>
<path d="M149.40,416.50 C149.40,413.80 151.23,410.65 153.50,408.80 C155.77,406.95 159.25,405.80 163.00,405.40 C166.75,405.00 172.17,405.38 176.00,406.40 C179.83,407.42 182.70,409.23 186.00,411.50 C189.30,413.77 192.88,417.53 195.80,420.00 C198.72,422.47 199.97,424.85 203.50,426.30 C207.03,427.75 210.92,428.02 217.00,428.70 C223.08,429.38 232.63,430.30 240.00,430.40 C247.37,430.50 254.87,430.00 261.20,429.30 C267.53,428.60 273.07,427.60 278.00,426.20 C282.93,424.80 287.27,422.67 290.80,420.90 C294.33,419.13 297.08,417.72 299.20,415.60 C301.32,413.48 302.62,411.02 303.50,408.20 C304.38,405.38 304.50,401.88 304.50,398.70 C304.50,395.52 304.38,391.58 303.50,389.10 C302.62,386.62 301.67,385.38 299.20,383.80 C296.73,382.22 292.57,380.83 288.70,379.60 C284.83,378.37 280.23,377.45 276.00,376.40 C271.77,375.35 267.05,374.70 263.30,373.30 C259.55,371.90 255.63,370.55 253.50,368.00 C251.37,365.45 250.58,361.00 250.50,358.00 C250.42,355.00 251.25,352.33 253.00,350.00 C254.75,347.67 257.33,346.92 261.00,344.00 C264.67,341.08 270.58,337.33 275.00,332.50 C279.42,327.67 282.92,320.33 287.50,315.00 C292.08,309.67 297.08,303.62 302.50,300.50 C307.92,297.38 314.58,296.75 320.00,296.25 C325.42,295.75 331.00,295.88 335.00,297.50 C339.00,299.12 341.92,302.25 344.00,306.00 C346.08,309.75 346.92,315.17 347.50,320.00 C348.08,324.83 347.78,330.00 347.50,335.00 C347.22,340.00 346.43,345.38 345.80,350.00 C345.17,354.62 345.12,358.82 343.70,362.70 C342.28,366.58 339.77,370.13 337.30,373.30 C334.83,376.47 330.83,378.53 328.90,381.70 C326.97,384.87 326.58,388.77 325.70,392.30 C324.82,395.83 324.83,399.02 323.60,402.90 C322.37,406.78 320.60,411.90 318.30,415.60 C316.00,419.30 313.33,422.47 309.80,425.10 C306.27,427.73 301.68,429.82 297.10,431.40 C292.52,432.98 288.28,433.53 282.30,434.60 C276.32,435.67 268.25,437.07 261.20,437.80 C254.15,438.53 247.37,439.00 240.00,439.00 C232.63,439.00 223.08,438.37 217.00,437.80 C210.92,437.23 208.33,436.43 203.50,435.60 C198.67,434.77 192.58,433.60 188.00,432.80 C183.42,432.00 180.17,431.45 176.00,430.80 C171.83,430.15 166.75,429.87 163.00,428.90 C159.25,427.93 155.77,427.07 153.50,425.00 C151.23,422.93 149.40,419.20 149.40,416.50Z" fill="#c3c3d9" fill-opacity="0.5"/>
<path d="M149.40,416.50 C149.40,413.80 151.23,410.65 153.50,408.80 C155.77,406.95 159.25,405.80 163.00,405.40 C166.75,405.00 172.17,405.38 176.00,406.40 C179.83,407.42 182.70,409.23 186.00,411.50 C189.30,413.77 192.88,417.53 195.80,420.00 C198.72,422.47 199.97,424.85 203.50,426.30 C207.03,427.75 210.92,428.02 217.00,428.70 C223.08,429.38 232.63,430.30 240.00,430.40 C247.37,430.50 254.87,430.00 261.20,429.30 C267.53,428.60 273.07,427.60 278.00,426.20 C282.93,424.80 287.27,422.67 290.80,420.90 C294.33,419.13 297.08,417.72 299.20,415.60 C301.32,413.48 302.62,411.02 303.50,408.20 C304.38,405.38 304.50,401.88 304.50,398.70 C304.50,395.52 304.38,391.58 303.50,389.10 C302.62,386.62 301.67,385.38 299.20,383.80 C296.73,382.22 292.57,380.83 288.70,379.60 C284.83,378.37 280.23,377.45 276.00,376.40 C271.77,375.35 267.05,374.70 263.30,373.30 C259.55,371.90 255.63,370.55 253.50,368.00 C251.37,365.45 250.58,361.00 250.50,358.00 C250.42,355.00 251.25,352.33 253.00,350.00 C254.75,347.67 257.33,346.92 261.00,344.00 C264.67,341.08 270.58,337.33 275.00,332.50 C279.42,327.67 282.92,320.33 287.50,315.00 C292.08,309.67 297.08,303.62 302.50,300.50 C307.92,297.38 314.58,296.75 320.00,296.25 C325.42,295.75 331.00,295.88 335.00,297.50 C339.00,299.12 341.92,302.25 344.00,306.00 C346.08,309.75 346.92,315.17 347.50,320.00 C348.08,324.83 347.78,330.00 347.50,335.00 C347.22,340.00 346.43,345.38 345.80,350.00 C345.17,354.62 345.12,358.82 343.70,362.70 C342.28,366.58 339.77,370.13 337.30,373.30 C334.83,376.47 330.83,378.53 328.90,381.70 C326.97,384.87 326.58,388.77 325.70,392.30 C324.82,395.83 324.83,399.02 323.60,402.90 C322.37,406.78 320.60,411.90 318.30,415.60 C316.00,419.30 313.33,422.47 309.80,425.10 C306.27,427.73 301.68,429.82 297.10,431.40 C292.52,432.98 288.28,433.53 282.30,434.60 C276.32,435.67 268.25,437.07 261.20,437.80 C254.15,438.53 247.37,439.00 240.00,439.00 C232.63,439.00 223.08,438.37 217.00,437.80 C210.92,437.23 208.33,436.43 203.50,435.60 C198.67,434.77 192.58,433.60 188.00,432.80 C183.42,432.00 180.17,431.45 176.00,430.80 C171.83,430.15 166.75,429.87 163.00,428.90 C159.25,427.93 155.77,427.07 153.50,425.00 C151.23,422.93 149.40,419.20 149.40,416.50Z" fill="none" stroke="#8398c0" stroke-width="1.15" stroke-dasharray="3,2.2"/>
<path d="M175.80,272.70 C175.80,268.88 178.07,263.02 181.20,259.20 C184.33,255.38 188.33,252.03 194.60,249.80 C200.87,247.57 210.72,245.80 218.80,245.80 C226.88,245.80 235.02,248.23 243.10,249.80 C251.18,251.37 260.12,253.63 267.30,255.20 C274.48,256.77 281.68,257.32 286.20,259.20 C290.72,261.08 293.73,263.80 294.40,266.50 C295.07,269.20 292.92,272.80 290.20,275.40 C287.48,278.00 282.37,279.42 278.10,282.10 C273.83,284.78 268.20,288.58 264.60,291.50 C261.00,294.42 258.52,296.45 256.50,299.60 C254.48,302.75 253.83,306.35 252.50,310.40 C251.17,314.45 249.67,318.13 248.50,323.90 C247.33,329.67 246.17,337.32 245.50,345.00 C244.83,352.68 244.62,362.75 244.50,370.00 C244.38,377.25 243.88,383.83 244.80,388.50 C245.72,393.17 247.13,395.50 250.00,398.00 C252.87,400.50 258.70,401.75 262.00,403.50 C265.30,405.25 268.10,406.48 269.80,408.50 C271.50,410.52 272.23,413.18 272.20,415.60 C272.17,418.02 271.43,420.88 269.60,423.00 C267.77,425.12 264.72,427.23 261.20,428.30 C257.68,429.37 252.28,429.87 248.50,429.40 C244.72,428.93 240.78,427.57 238.50,425.50 C236.22,423.43 235.62,421.25 234.80,417.00 C233.98,412.75 234.15,406.17 233.60,400.00 C233.05,393.83 232.27,387.50 231.50,380.00 C230.73,372.50 229.83,362.57 229.00,355.00 C228.17,347.43 227.42,340.68 226.50,334.60 C225.58,328.52 224.55,323.43 223.50,318.50 C222.45,313.57 221.87,308.82 220.20,305.00 C218.53,301.18 217.32,298.30 213.50,295.60 C209.68,292.90 202.68,291.05 197.30,288.80 C191.92,286.55 184.78,284.78 181.20,282.10 C177.62,279.42 175.80,276.52 175.80,272.70Z" fill="#d7e5cd" fill-opacity="0.5"/>
<path d="M175.80,272.70 C175.80,268.88 178.07,263.02 181.20,259.20 C184.33,255.38 188.33,252.03 194.60,249.80 C200.87,247.57 210.72,245.80 218.80,245.80 C226.88,245.80 235.02,248.23 243.10,249.80 C251.18,251.37 260.12,253.63 267.30,255.20 C274.48,256.77 281.68,257.32 286.20,259.20 C290.72,261.08 293.73,263.80 294.40,266.50 C295.07,269.20 292.92,272.80 290.20,275.40 C287.48,278.00 282.37,279.42 278.10,282.10 C273.83,284.78 268.20,288.58 264.60,291.50 C261.00,294.42 258.52,296.45 256.50,299.60 C254.48,302.75 253.83,306.35 252.50,310.40 C251.17,314.45 249.67,318.13 248.50,323.90 C247.33,329.67 246.17,337.32 245.50,345.00 C244.83,352.68 244.62,362.75 244.50,370.00 C244.38,377.25 243.88,383.83 244.80,388.50 C245.72,393.17 247.13,395.50 250.00,398.00 C252.87,400.50 258.70,401.75 262.00,403.50 C265.30,405.25 268.10,406.48 269.80,408.50 C271.50,410.52 272.23,413.18 272.20,415.60 C272.17,418.02 271.43,420.88 269.60,423.00 C267.77,425.12 264.72,427.23 261.20,428.30 C257.68,429.37 252.28,429.87 248.50,429.40 C244.72,428.93 240.78,427.57 238.50,425.50 C236.22,423.43 235.62,421.25 234.80,417.00 C233.98,412.75 234.15,406.17 233.60,400.00 C233.05,393.83 232.27,387.50 231.50,380.00 C230.73,372.50 229.83,362.57 229.00,355.00 C228.17,347.43 227.42,340.68 226.50,334.60 C225.58,328.52 224.55,323.43 223.50,318.50 C222.45,313.57 221.87,308.82 220.20,305.00 C218.53,301.18 217.32,298.30 213.50,295.60 C209.68,292.90 202.68,291.05 197.30,288.80 C191.92,286.55 184.78,284.78 181.20,282.10 C177.62,279.42 175.80,276.52 175.80,272.70Z" fill="none" stroke="#a6d18a" stroke-width="1.2" stroke-dasharray="3,2.2"/>
<path d="M49.00,427.50 C50.50,422.92 53.17,416.92 57.50,412.50 C61.83,408.08 67.92,404.96 75.00,401.00 C82.08,397.04 92.50,393.53 100.00,388.75 C107.50,383.97 113.40,376.68 120.00,372.30 C126.60,367.93 133.07,366.05 139.60,362.50 C146.13,358.95 152.67,354.55 159.20,351.00 C165.73,347.45 172.27,343.92 178.80,341.20 C185.33,338.48 192.40,336.07 198.40,334.70 C204.40,333.33 209.90,332.73 214.80,333.00 C219.70,333.27 223.45,334.93 227.80,336.30 C232.15,337.67 237.08,339.83 240.90,341.20 C244.72,342.57 247.18,343.65 250.70,344.50 C254.22,345.35 258.53,345.63 262.00,346.30 C265.47,346.97 268.92,347.30 271.50,348.50 C274.08,349.70 276.33,351.58 277.50,353.50 C278.67,355.42 278.92,357.83 278.50,360.00 C278.08,362.17 277.33,364.58 275.00,366.50 C272.67,368.42 268.00,370.38 264.50,371.50 C261.00,372.62 256.83,372.18 254.00,373.20 C251.17,374.22 249.38,375.13 247.50,377.60 C245.62,380.07 244.53,383.77 242.70,388.00 C240.87,392.23 237.82,398.58 236.50,403.00 C235.18,407.42 235.97,411.53 234.80,414.50 C233.63,417.47 232.47,419.25 229.50,420.80 C226.53,422.35 222.30,423.35 217.00,423.80 C211.70,424.25 203.12,422.97 197.70,423.50 C192.28,424.03 187.55,425.25 184.50,427.00 C181.45,428.75 180.18,430.30 179.40,434.00 C178.62,437.70 178.93,444.10 179.80,449.20 C180.67,454.30 183.32,460.43 184.60,464.60 C185.88,468.77 187.82,471.00 187.50,474.20 C187.18,477.40 185.12,481.55 182.70,483.80 C180.28,486.05 177.17,486.73 173.00,487.70 C168.83,488.67 165.07,489.60 157.70,489.60 C150.33,489.60 138.42,488.18 128.80,487.70 C119.18,487.22 109.80,487.98 100.00,486.70 C90.20,485.42 77.29,482.37 70.00,480.00 C62.71,477.63 59.58,476.25 56.25,472.50 C52.92,468.75 51.29,462.92 50.00,457.50 C48.71,452.08 48.67,445.00 48.50,440.00 C48.33,435.00 47.50,432.08 49.00,427.50Z" fill="#e1c3bd" fill-opacity="0.5"/>
<path d="M49.00,427.50 C50.50,422.92 53.17,416.92 57.50,412.50 C61.83,408.08 67.92,404.96 75.00,401.00 C82.08,397.04 92.50,393.53 100.00,388.75 C107.50,383.97 113.40,376.68 120.00,372.30 C126.60,367.93 133.07,366.05 139.60,362.50 C146.13,358.95 152.67,354.55 159.20,351.00 C165.73,347.45 172.27,343.92 178.80,341.20 C185.33,338.48 192.40,336.07 198.40,334.70 C204.40,333.33 209.90,332.73 214.80,333.00 C219.70,333.27 223.45,334.93 227.80,336.30 C232.15,337.67 237.08,339.83 240.90,341.20 C244.72,342.57 247.18,343.65 250.70,344.50 C254.22,345.35 258.53,345.63 262.00,346.30 C265.47,346.97 268.92,347.30 271.50,348.50 C274.08,349.70 276.33,351.58 277.50,353.50 C278.67,355.42 278.92,357.83 278.50,360.00 C278.08,362.17 277.33,364.58 275.00,366.50 C272.67,368.42 268.00,370.38 264.50,371.50 C261.00,372.62 256.83,372.18 254.00,373.20 C251.17,374.22 249.38,375.13 247.50,377.60 C245.62,380.07 244.53,383.77 242.70,388.00 C240.87,392.23 237.82,398.58 236.50,403.00 C235.18,407.42 235.97,411.53 234.80,414.50 C233.63,417.47 232.47,419.25 229.50,420.80 C226.53,422.35 222.30,423.35 217.00,423.80 C211.70,424.25 203.12,422.97 197.70,423.50 C192.28,424.03 187.55,425.25 184.50,427.00 C181.45,428.75 180.18,430.30 179.40,434.00 C178.62,437.70 178.93,444.10 179.80,449.20 C180.67,454.30 183.32,460.43 184.60,464.60 C185.88,468.77 187.82,471.00 187.50,474.20 C187.18,477.40 185.12,481.55 182.70,483.80 C180.28,486.05 177.17,486.73 173.00,487.70 C168.83,488.67 165.07,489.60 157.70,489.60 C150.33,489.60 138.42,488.18 128.80,487.70 C119.18,487.22 109.80,487.98 100.00,486.70 C90.20,485.42 77.29,482.37 70.00,480.00 C62.71,477.63 59.58,476.25 56.25,472.50 C52.92,468.75 51.29,462.92 50.00,457.50 C48.71,452.08 48.67,445.00 48.50,440.00 C48.33,435.00 47.50,432.08 49.00,427.50Z" fill="none" stroke="#cf5874" stroke-width="1.2" stroke-dasharray="3,2.2"/>
<text x="7.00" y="503.80" font-size="11.6" fill="#000" stroke="#000" stroke-width="0.12" font-weight="bold">D</text>
<path d="M7.50,537.20 L10.90,537.20 L9.20,539.70Z" fill="#111"/>
<path d="M13.70,536.90 h3 M12.90,538.70 h3.4 M15.80,540.00 h1.7 M15.10,536.50 v4.4" stroke="#5a5a5a" stroke-width="0.65" fill="none"/>
<text x="18.40" y="540.40" font-size="4.75" fill="#1a1a1a" stroke="#1a1a1a" stroke-width="0.1" textLength="48.65" lengthAdjust="spacingAndGlyphs">Adaptive Immune System</text>
<path d="M14.30,542.80 L16.80,544.30 L14.30,545.80Z" fill="#111"/>
<path d="M19.90,542.90 h3 M19.10,544.70 h3.4 M22.00,546.00 h1.7 M21.30,542.50 v4.4" stroke="#5a5a5a" stroke-width="0.65" fill="none"/>
<rect x="24.10" y="541.55" width="54.40" height="5.5" fill="#d3eac3"/>
<text x="24.60" y="546.40" font-size="4.75" fill="#1a1a1a" stroke="#1a1a1a" stroke-width="0.1" textLength="53.3" lengthAdjust="spacingAndGlyphs">TCR signaling (FDR: 0.054)</text>
<path d="M14.30,548.80 L16.80,550.30 L14.30,551.80Z" fill="#111"/>
<path d="M19.90,548.90 h3 M19.10,550.70 h3.4 M22.00,552.00 h1.7 M21.30,548.50 v4.4" stroke="#5a5a5a" stroke-width="0.65" fill="none"/>
<rect x="24.10" y="547.55" width="91.30" height="5.5" fill="#d3eac3"/>
<text x="24.60" y="552.40" font-size="4.75" fill="#1a1a1a" stroke="#1a1a1a" stroke-width="0.1" textLength="90.2" lengthAdjust="spacingAndGlyphs">Costimulation by the CD28 family (FDR: 0.022)</text>
<path d="M14.30,554.80 L16.80,556.30 L14.30,557.80Z" fill="#111"/>
<path d="M19.90,554.90 h3 M19.10,556.70 h3.4 M22.00,558.00 h1.7 M21.30,554.50 v4.4" stroke="#5a5a5a" stroke-width="0.65" fill="none"/>
<rect x="24.10" y="553.55" width="102.90" height="5.5" fill="#d3eac3"/>
<text x="24.60" y="558.40" font-size="4.75" fill="#1a1a1a" stroke="#1a1a1a" stroke-width="0.1" textLength="101.8" lengthAdjust="spacingAndGlyphs">Signaling by the B Cell Receptor (BCR) (FDR: 0.087)</text>
<path d="M14.30,560.80 L16.80,562.30 L14.30,563.80Z" fill="#111"/>
<path d="M19.90,560.90 h3 M19.10,562.70 h3.4 M22.00,564.00 h1.7 M21.30,560.50 v4.4" stroke="#5a5a5a" stroke-width="0.65" fill="none"/>
<text x="24.60" y="564.40" font-size="4.75" fill="#1a1a1a" stroke="#1a1a1a" stroke-width="0.1" textLength="108.46" lengthAdjust="spacingAndGlyphs">Class I MHC mediated antigen processing &amp; presentation</text>
<path d="M14.30,566.80 L16.80,568.30 L14.30,569.80Z" fill="#111"/>
<path d="M19.90,566.90 h3 M19.10,568.70 h3.4 M22.00,570.00 h1.7 M21.30,566.50 v4.4" stroke="#5a5a5a" stroke-width="0.65" fill="none"/>
<rect x="24.10" y="565.55" width="91.30" height="5.5" fill="#d3eac3"/>
<text x="24.60" y="570.40" font-size="4.75" fill="#1a1a1a" stroke="#1a1a1a" stroke-width="0.1" textLength="90.2" lengthAdjust="spacingAndGlyphs">MHC class II antigen presentation (FDR: 0.073)</text>
<path d="M14.30,572.80 L16.80,574.30 L14.30,575.80Z" fill="#111"/>
<path d="M19.90,572.90 h3 M19.10,574.70 h3.4 M22.00,576.00 h1.7 M21.30,572.50 v4.4" stroke="#5a5a5a" stroke-width="0.65" fill="none"/>
<rect x="24.10" y="571.55" width="181.70" height="5.5" fill="#f0cec7"/>
<text x="24.60" y="576.40" font-size="4.75" fill="#1a1a1a" stroke="#1a1a1a" stroke-width="0.1" textLength="180.6" lengthAdjust="spacingAndGlyphs">Immunoregulatory interactions between a Lymphoid and a non-Lymphoid cell (FDR: 0.000E+00)</text>
<path d="M14.30,578.80 L16.80,580.30 L14.30,581.80Z" fill="#111"/>
<path d="M19.90,578.90 h3 M19.10,580.70 h3.4 M22.00,582.00 h1.7 M21.30,578.50 v4.4" stroke="#5a5a5a" stroke-width="0.65" fill="none"/>
<rect x="24.10" y="577.55" width="56.70" height="5.5" fill="#88c165"/>
<text x="24.60" y="582.40" font-size="4.75" fill="#1a1a1a" stroke="#1a1a1a" stroke-width="0.1" textLength="55.6" lengthAdjust="spacingAndGlyphs">Rap1 signaling (FDR: 0.451)</text>
<path d="M14.30,584.80 L16.80,586.30 L14.30,587.80Z" fill="#111"/>
<path d="M19.90,584.90 h3 M19.10,586.70 h3.4 M22.00,588.00 h1.7 M21.30,584.50 v4.4" stroke="#5a5a5a" stroke-width="0.65" fill="none"/>
<text x="24.60" y="588.40" font-size="4.75" fill="#1a1a1a" stroke="#1a1a1a" stroke-width="0.1" textLength="70.24" lengthAdjust="spacingAndGlyphs">Butyrophilin (BTN) family interactions</text>
<path d="M7.50,596.20 L10.90,596.20 L9.20,598.70Z" fill="#111"/>
<path d="M13.70,595.90 h3 M12.90,597.70 h3.4 M15.80,599.00 h1.7 M15.10,595.50 v4.4" stroke="#5a5a5a" stroke-width="0.65" fill="none"/>
<text x="18.40" y="599.40" font-size="4.75" fill="#1a1a1a" stroke="#1a1a1a" stroke-width="0.1" textLength="43.9" lengthAdjust="spacingAndGlyphs">Innate Immune System</text>
<path d="M14.30,602.00 L16.80,603.50 L14.30,605.00Z" fill="#111"/>
<path d="M19.90,602.10 h3 M19.10,603.90 h3.4 M22.00,605.20 h1.7 M21.30,601.70 v4.4" stroke="#5a5a5a" stroke-width="0.65" fill="none"/>
<rect x="24.10" y="600.75" width="95.90" height="5.5" fill="#f0cec7"/>
<text x="24.60" y="605.60" font-size="4.75" fill="#1a1a1a" stroke="#1a1a1a" stroke-width="0.1" textLength="94.8" lengthAdjust="spacingAndGlyphs">Toll-Like Receptors Cascades (FDR: 0.000E+00)</text>
<path d="M14.30,607.98 L16.80,609.48 L14.30,610.98Z" fill="#111"/>
<path d="M19.90,608.08 h3 M19.10,609.88 h3.4 M22.00,611.18 h1.7 M21.30,607.68 v4.4" stroke="#5a5a5a" stroke-width="0.65" fill="none"/>
<rect x="24.10" y="606.73" width="69.20" height="5.5" fill="#88c165"/>
<text x="24.60" y="611.58" font-size="4.75" fill="#1a1a1a" stroke="#1a1a1a" stroke-width="0.1" textLength="68.1" lengthAdjust="spacingAndGlyphs">Complement cascade (FDR: 0.693)</text>
<path d="M14.30,613.96 L16.80,615.46 L14.30,616.96Z" fill="#111"/>
<path d="M19.90,614.06 h3 M19.10,615.86 h3.4 M22.00,617.16 h1.7 M21.30,613.66 v4.4" stroke="#5a5a5a" stroke-width="0.65" fill="none"/>
<rect x="24.10" y="612.71" width="213.90" height="5.5" fill="#c1c3d3"/>
<text x="24.60" y="617.56" font-size="4.75" fill="#1a1a1a" stroke="#1a1a1a" stroke-width="0.1" textLength="212.8" lengthAdjust="spacingAndGlyphs">Nucleotide-binding domain, leucine rich repeat containing receptor (NLR) signaling pathways (FDR: 2.142E-03)</text>
<path d="M14.30,619.94 L16.80,621.44 L14.30,622.94Z" fill="#111"/>
<path d="M19.90,620.04 h3 M19.10,621.84 h3.4 M22.00,623.14 h1.7 M21.30,619.64 v4.4" stroke="#5a5a5a" stroke-width="0.65" fill="none"/>
<text x="24.60" y="623.54" font-size="4.75" fill="#1a1a1a" stroke="#1a1a1a" stroke-width="0.1" textLength="102.06" lengthAdjust="spacingAndGlyphs">Advanced glycosylation endproduct receptor signaling</text>
<path d="M14.30,625.92 L16.80,627.42 L14.30,628.92Z" fill="#111"/>
<path d="M19.90,626.02 h3 M19.10,627.82 h3.4 M22.00,629.12 h1.7 M21.30,625.62 v4.4" stroke="#5a5a5a" stroke-width="0.65" fill="none"/>
<rect x="24.10" y="624.67" width="138.90" height="5.5" fill="#88c165"/>
<text x="24.60" y="629.52" font-size="4.75" fill="#1a1a1a" stroke="#1a1a1a" stroke-width="0.1" textLength="137.8" lengthAdjust="spacingAndGlyphs">DDX58/IFIH1-mediated induction of interferon-alpha/beta (FDR: 0.380)</text>
<path d="M14.30,631.90 L16.80,633.40 L14.30,634.90Z" fill="#111"/>
<path d="M19.90,632.00 h3 M19.10,633.80 h3.4 M22.00,635.10 h1.7 M21.30,631.60 v4.4" stroke="#5a5a5a" stroke-width="0.65" fill="none"/>
<text x="24.60" y="635.50" font-size="4.75" fill="#1a1a1a" stroke="#1a1a1a" stroke-width="0.1" textLength="89.24" lengthAdjust="spacingAndGlyphs">Cytosolic sensors of pathogen-associated DNA</text>
<path d="M14.30,637.88 L16.80,639.38 L14.30,640.88Z" fill="#111"/>
<path d="M19.90,637.98 h3 M19.10,639.78 h3.4 M22.00,641.08 h1.7 M21.30,637.58 v4.4" stroke="#5a5a5a" stroke-width="0.65" fill="none"/>
<rect x="24.10" y="636.63" width="138.90" height="5.5" fill="#f0cec7"/>
<text x="24.60" y="641.48" font-size="4.75" fill="#1a1a1a" stroke="#1a1a1a" stroke-width="0.1" textLength="137.8" lengthAdjust="spacingAndGlyphs">Fcgamma receptor (FCGR) dependent phagocytosis (FDR: 0.000E+00)</text>
<path d="M14.30,643.86 L16.80,645.36 L14.30,646.86Z" fill="#111"/>
<path d="M19.90,643.96 h3 M19.10,645.76 h3.4 M22.00,647.06 h1.7 M21.30,643.56 v4.4" stroke="#5a5a5a" stroke-width="0.65" fill="none"/>
<rect x="24.10" y="642.61" width="74.70" height="5.5" fill="#f0cec7"/>
<text x="24.60" y="647.46" font-size="4.75" fill="#1a1a1a" stroke="#1a1a1a" stroke-width="0.1" textLength="73.6" lengthAdjust="spacingAndGlyphs">DAP12 interactions (FDR: 0.000E+00)</text>
<path d="M14.30,649.84 L16.80,651.34 L14.30,652.84Z" fill="#111"/>
<path d="M19.90,649.94 h3 M19.10,651.74 h3.4 M22.00,653.04 h1.7 M21.30,649.54 v4.4" stroke="#5a5a5a" stroke-width="0.65" fill="none"/>
<rect x="24.10" y="648.59" width="98.40" height="5.5" fill="#d3eac3"/>
<text x="24.60" y="653.44" font-size="4.75" fill="#1a1a1a" stroke="#1a1a1a" stroke-width="0.1" textLength="97.3" lengthAdjust="spacingAndGlyphs">Fc epsilon receptor (FCERI) signaling (FDR: 0.058)</text>
<path d="M14.30,655.82 L16.80,657.32 L14.30,658.82Z" fill="#111"/>
<path d="M19.90,655.92 h3 M19.10,657.72 h3.4 M22.00,659.02 h1.7 M21.30,655.52 v4.4" stroke="#5a5a5a" stroke-width="0.65" fill="none"/>
<rect x="24.10" y="654.57" width="94.70" height="5.5" fill="#c1c3d3"/>
<text x="24.60" y="659.42" font-size="4.75" fill="#1a1a1a" stroke="#1a1a1a" stroke-width="0.1" textLength="93.6" lengthAdjust="spacingAndGlyphs">C-type lectin receptors (CLRs) (FDR: 1.308E-03)</text>
<path d="M14.30,661.80 L16.80,663.30 L14.30,664.80Z" fill="#111"/>
<path d="M19.90,661.90 h3 M19.10,663.70 h3.4 M22.00,665.00 h1.7 M21.30,661.50 v4.4" stroke="#5a5a5a" stroke-width="0.65" fill="none"/>
<rect x="24.10" y="660.55" width="72.90" height="5.5" fill="#88c165"/>
<text x="24.60" y="665.40" font-size="4.75" fill="#1a1a1a" stroke="#1a1a1a" stroke-width="0.1" textLength="71.8" lengthAdjust="spacingAndGlyphs">Antimicrobial peptides (FDR: 0.125)</text>
<path d="M14.30,667.78 L16.80,669.28 L14.30,670.78Z" fill="#111"/>
<path d="M19.90,667.88 h3 M19.10,669.68 h3.4 M22.00,670.98 h1.7 M21.30,667.48 v4.4" stroke="#5a5a5a" stroke-width="0.65" fill="none"/>
<text x="24.60" y="671.38" font-size="4.75" fill="#1a1a1a" stroke="#1a1a1a" stroke-width="0.1" textLength="46.52" lengthAdjust="spacingAndGlyphs">Neutrophil degranulation</text>
<path d="M14.30,673.76 L16.80,675.26 L14.30,676.76Z" fill="#111"/>
<path d="M19.90,673.86 h3 M19.10,675.66 h3.4 M22.00,676.96 h1.7 M21.30,673.46 v4.4" stroke="#5a5a5a" stroke-width="0.65" fill="none"/>
<rect x="24.10" y="672.51" width="110.30" height="5.5" fill="#f0cec7"/>
<text x="24.60" y="677.36" font-size="4.75" fill="#1a1a1a" stroke="#1a1a1a" stroke-width="0.1" textLength="109.2" lengthAdjust="spacingAndGlyphs">ROS, RNS production in phagocytes (FDR: 0.000E+00)</text>
<path d="M230.20,537.20 L233.60,537.20 L231.90,539.70Z" fill="#111"/>
<path d="M236.40,536.90 h3 M235.60,538.70 h3.4 M238.50,540.00 h1.7 M237.80,536.50 v4.4" stroke="#5a5a5a" stroke-width="0.65" fill="none"/>
<text x="241.10" y="540.40" font-size="4.75" fill="#1a1a1a" stroke="#1a1a1a" stroke-width="0.1" textLength="71.19" lengthAdjust="spacingAndGlyphs">Cytokine Signaling in Immune system</text>
<path d="M236.80,543.80 L240.20,543.80 L238.50,546.30Z" fill="#111"/>
<path d="M243.00,543.50 h3 M242.20,545.30 h3.4 M245.10,546.60 h1.7 M244.40,543.10 v4.4" stroke="#5a5a5a" stroke-width="0.65" fill="none"/>
<rect x="247.20" y="542.15" width="73.70" height="5.5" fill="#c1c3d3"/>
<text x="247.70" y="547.00" font-size="4.75" fill="#1a1a1a" stroke="#1a1a1a" stroke-width="0.1" textLength="72.6" lengthAdjust="spacingAndGlyphs">Interferon Signaling (FDR: 6.818E-03)</text>
<path d="M243.50,549.34 L246.00,550.84 L243.50,552.34Z" fill="#111"/>
<path d="M249.10,549.44 h3 M248.30,551.24 h3.4 M251.20,552.54 h1.7 M250.50,549.04 v4.4" stroke="#5a5a5a" stroke-width="0.65" fill="none"/>
<rect x="253.30" y="548.09" width="96.40" height="5.5" fill="#f0cec7"/>
<text x="253.80" y="552.94" font-size="4.75" fill="#1a1a1a" stroke="#1a1a1a" stroke-width="0.1" textLength="95.3" lengthAdjust="spacingAndGlyphs">Interferon alpha/beta signaling (FDR: 0.000E+00)</text>
<path d="M243.50,555.28 L246.00,556.78 L243.50,558.28Z" fill="#111"/>
<path d="M249.10,555.38 h3 M248.30,557.18 h3.4 M251.20,558.48 h1.7 M250.50,554.98 v4.4" stroke="#5a5a5a" stroke-width="0.65" fill="none"/>
<rect x="253.30" y="554.03" width="90.70" height="5.5" fill="#f0cec7"/>
<text x="253.80" y="558.88" font-size="4.75" fill="#1a1a1a" stroke="#1a1a1a" stroke-width="0.1" textLength="89.6" lengthAdjust="spacingAndGlyphs">Interferon gamma signaling (FDR: 0.000E+00)</text>
<path d="M243.50,561.22 L246.00,562.72 L243.50,564.22Z" fill="#111"/>
<path d="M249.10,561.32 h3 M248.30,563.12 h3.4 M251.20,564.42 h1.7 M250.50,560.92 v4.4" stroke="#5a5a5a" stroke-width="0.65" fill="none"/>
<rect x="253.30" y="559.97" width="114.20" height="5.5" fill="#88c165"/>
<text x="253.80" y="564.82" font-size="4.75" fill="#1a1a1a" stroke="#1a1a1a" stroke-width="0.1" textLength="113.1" lengthAdjust="spacingAndGlyphs">Antiviral mechanism by IFN-stimulated genes (FDR: 0.904)</text>
<path d="M236.80,567.56 L240.20,567.56 L238.50,570.06Z" fill="#111"/>
<path d="M243.00,567.26 h3 M242.20,569.06 h3.4 M245.10,570.36 h1.7 M244.40,566.86 v4.4" stroke="#5a5a5a" stroke-width="0.65" fill="none"/>
<text x="247.70" y="570.76" font-size="4.75" fill="#1a1a1a" stroke="#1a1a1a" stroke-width="0.1" textLength="46.28" lengthAdjust="spacingAndGlyphs">Signaling by Interleukins</text>
<path d="M243.50,573.10 L246.00,574.60 L243.50,576.10Z" fill="#111"/>
<path d="M249.10,573.20 h3 M248.30,575.00 h3.4 M251.20,576.30 h1.7 M250.50,572.80 v4.4" stroke="#5a5a5a" stroke-width="0.65" fill="none"/>
<rect x="253.30" y="571.85" width="92.10" height="5.5" fill="#c1c3d3"/>
<text x="253.80" y="576.70" font-size="4.75" fill="#1a1a1a" stroke="#1a1a1a" stroke-width="0.1" textLength="91.0" lengthAdjust="spacingAndGlyphs">Interleukin-1 family signaling (FDR: 2.864E-03)</text>
<path d="M243.50,579.04 L246.00,580.54 L243.50,582.04Z" fill="#111"/>
<path d="M249.10,579.14 h3 M248.30,580.94 h3.4 M251.20,582.24 h1.7 M250.50,578.74 v4.4" stroke="#5a5a5a" stroke-width="0.65" fill="none"/>
<rect x="253.30" y="577.79" width="92.10" height="5.5" fill="#c1c3d3"/>
<text x="253.80" y="582.64" font-size="4.75" fill="#1a1a1a" stroke="#1a1a1a" stroke-width="0.1" textLength="91.0" lengthAdjust="spacingAndGlyphs">Interleukin-2 family signaling (FDR: 8.417E-03)</text>
<path d="M243.50,584.98 L246.00,586.48 L243.50,587.98Z" fill="#111"/>
<path d="M249.10,585.08 h3 M248.30,586.88 h3.4 M251.20,588.18 h1.7 M250.50,584.68 v4.4" stroke="#5a5a5a" stroke-width="0.65" fill="none"/>
<text x="253.80" y="588.58" font-size="4.75" fill="#1a1a1a" stroke="#1a1a1a" stroke-width="0.1" textLength="71.67" lengthAdjust="spacingAndGlyphs">Interleukin-3,5 and GM-CSE signaling</text>
<path d="M243.50,590.92 L246.00,592.42 L243.50,593.92Z" fill="#111"/>
<path d="M249.10,591.02 h3 M248.30,592.82 h3.4 M251.20,594.12 h1.7 M250.50,590.62 v4.4" stroke="#5a5a5a" stroke-width="0.65" fill="none"/>
<text x="253.80" y="594.52" font-size="4.75" fill="#1a1a1a" stroke="#1a1a1a" stroke-width="0.1" textLength="55.78" lengthAdjust="spacingAndGlyphs">Interleukin-4 and 13 signaling</text>
<path d="M243.50,596.86 L246.00,598.36 L243.50,599.86Z" fill="#111"/>
<path d="M249.10,596.96 h3 M248.30,598.76 h3.4 M251.20,600.06 h1.7 M250.50,596.56 v4.4" stroke="#5a5a5a" stroke-width="0.65" fill="none"/>
<rect x="253.30" y="595.61" width="81.40" height="5.5" fill="#88c165"/>
<text x="253.80" y="600.46" font-size="4.75" fill="#1a1a1a" stroke="#1a1a1a" stroke-width="0.1" textLength="80.3" lengthAdjust="spacingAndGlyphs">Interleukin-6 family signaling (FDR: 0.620)</text>
<path d="M243.50,602.80 L246.00,604.30 L243.50,605.80Z" fill="#111"/>
<path d="M249.10,602.90 h3 M248.30,604.70 h3.4 M251.20,606.00 h1.7 M250.50,602.50 v4.4" stroke="#5a5a5a" stroke-width="0.65" fill="none"/>
<rect x="253.30" y="601.55" width="68.90" height="5.5" fill="#88c165"/>
<text x="253.80" y="606.40" font-size="4.75" fill="#1a1a1a" stroke="#1a1a1a" stroke-width="0.1" textLength="67.8" lengthAdjust="spacingAndGlyphs">Interleukin-7 signaling (FDR: 0.712)</text>
<path d="M243.50,608.74 L246.00,610.24 L243.50,611.74Z" fill="#111"/>
<path d="M249.10,608.84 h3 M248.30,610.64 h3.4 M251.20,611.94 h1.7 M250.50,608.44 v4.4" stroke="#5a5a5a" stroke-width="0.65" fill="none"/>
<rect x="253.30" y="607.49" width="82.90" height="5.5" fill="#f0cec7"/>
<text x="253.80" y="612.34" font-size="4.75" fill="#1a1a1a" stroke="#1a1a1a" stroke-width="0.1" textLength="81.8" lengthAdjust="spacingAndGlyphs">Interleukin-10 signaling (FDR: 0.000E+00)</text>
<path d="M243.50,614.68 L246.00,616.18 L243.50,617.68Z" fill="#111"/>
<path d="M249.10,614.78 h3 M248.30,616.58 h3.4 M251.20,617.88 h1.7 M250.50,614.38 v4.4" stroke="#5a5a5a" stroke-width="0.65" fill="none"/>
<rect x="253.30" y="613.43" width="85.10" height="5.5" fill="#d3eac3"/>
<text x="253.80" y="618.28" font-size="4.75" fill="#1a1a1a" stroke="#1a1a1a" stroke-width="0.1" textLength="84.0" lengthAdjust="spacingAndGlyphs">Interleukin-12 family signaling (FDR: 0.014)</text>
<path d="M243.50,620.62 L246.00,622.12 L243.50,623.62Z" fill="#111"/>
<path d="M249.10,620.72 h3 M248.30,622.52 h3.4 M251.20,623.82 h1.7 M250.50,620.32 v4.4" stroke="#5a5a5a" stroke-width="0.65" fill="none"/>
<rect x="253.30" y="619.37" width="72.40" height="5.5" fill="#d3eac3"/>
<text x="253.80" y="624.22" font-size="4.75" fill="#1a1a1a" stroke="#1a1a1a" stroke-width="0.1" textLength="71.3" lengthAdjust="spacingAndGlyphs">Interleukin-17 signaling (FDR: 0.079)</text>
<path d="M243.50,626.56 L246.00,628.06 L243.50,629.56Z" fill="#111"/>
<path d="M249.10,626.66 h3 M248.30,628.46 h3.4 M251.20,629.76 h1.7 M250.50,626.26 v4.4" stroke="#5a5a5a" stroke-width="0.65" fill="none"/>
<rect x="253.30" y="625.31" width="95.10" height="5.5" fill="#f0cec7"/>
<text x="253.80" y="630.16" font-size="4.75" fill="#1a1a1a" stroke="#1a1a1a" stroke-width="0.1" textLength="94.0" lengthAdjust="spacingAndGlyphs">Interleukin-20 family signaling (FDR: 9.980E-04)</text>
<path d="M243.50,632.50 L246.00,634.00 L243.50,635.50Z" fill="#111"/>
<path d="M249.10,632.60 h3 M248.30,634.40 h3.4 M251.20,635.70 h1.7 M250.50,632.20 v4.4" stroke="#5a5a5a" stroke-width="0.65" fill="none"/>
<rect x="253.30" y="631.25" width="77.00" height="5.5" fill="#88c165"/>
<text x="253.80" y="636.10" font-size="4.75" fill="#1a1a1a" stroke="#1a1a1a" stroke-width="0.1" textLength="75.9" lengthAdjust="spacingAndGlyphs">Other Interleukin signaling (FDR: 0.142)</text>
<path d="M243.00,638.54 h3 M242.20,640.34 h3.4 M245.10,641.64 h1.7 M244.40,638.14 v4.4" stroke="#5a5a5a" stroke-width="0.65" fill="none"/>
<rect x="247.20" y="637.19" width="97.40" height="5.5" fill="#88c165"/>
<text x="247.70" y="642.04" font-size="4.75" fill="#1a1a1a" stroke="#1a1a1a" stroke-width="0.1" textLength="96.3" lengthAdjust="spacingAndGlyphs">Growth hormone receptor signaling (FDR: 0.361)</text>
<path d="M243.00,644.48 h3 M242.20,646.28 h3.4 M245.10,647.58 h1.7 M244.40,644.08 v4.4" stroke="#5a5a5a" stroke-width="0.65" fill="none"/>
<rect x="247.20" y="643.13" width="95.80" height="5.5" fill="#88c165"/>
<text x="247.70" y="647.98" font-size="4.75" fill="#1a1a1a" stroke="#1a1a1a" stroke-width="0.1" textLength="94.7" lengthAdjust="spacingAndGlyphs">Prolactin receptor signaling (FDR: 0.623)</text>
<path d="M243.00,650.42 h3 M242.20,652.22 h3.4 M245.10,653.52 h1.7 M244.40,650.02 v4.4" stroke="#5a5a5a" stroke-width="0.65" fill="none"/>
<rect x="247.20" y="649.07" width="114.60" height="5.5" fill="#c1c3d3"/>
<text x="247.70" y="653.92" font-size="4.75" fill="#1a1a1a" stroke="#1a1a1a" stroke-width="0.1" textLength="113.5" lengthAdjust="spacingAndGlyphs">TNFR2 non-canonical NF-kB pathway (FDR: 3.135E-03)</text>
<rect x="74.8" y="684.8" width="44.8" height="5.8" fill="#dcdcdc"/>
<rect x="119.6" y="684.8" width="45.6" height="5.8" fill="#88c165"/>
<rect x="165.2" y="684.8" width="44.8" height="5.8" fill="#d3eac3"/>
<rect x="210.0" y="684.8" width="45.0" height="5.8" fill="#c1c3d3"/>
<rect x="255.0" y="684.8" width="44.8" height="5.8" fill="#f0cec7"/>
<text x="77.50" y="689.30" font-size="4.3" fill="#222" stroke="#222" stroke-width="0.12">FDR:</text>
<text x="121.80" y="689.30" font-size="4.3" fill="#222" stroke="#222" stroke-width="0.12">&gt;=0.1</text>
<text x="167.50" y="689.30" font-size="4.3" fill="#222" stroke="#222" stroke-width="0.12">&gt;=0.01</text>
<text x="212.30" y="689.30" font-size="4.3" fill="#222" stroke="#222" stroke-width="0.12">&gt;=0.001</text>
<text x="256.90" y="689.30" font-size="4.3" fill="#222" stroke="#222" stroke-width="0.12">&lt;0.001</text>
<text x="384.00" y="503.70" font-size="11.6" fill="#000" stroke="#000" stroke-width="0.12" font-weight="bold">E</text>
<text x="409.00" y="501.30" font-size="8.55" fill="#222" stroke="#222" stroke-width="0.12" textLength="90.8" lengthAdjust="spacingAndGlyphs">Gene Score Distribution</text>
<text x="446.80" y="517.60" font-size="9.0" fill="#111" stroke="#111" stroke-width="0.12" font-weight="bold" textLength="15.2" lengthAdjust="spacingAndGlyphs">Score</text>
<text transform="translate(391.2,615.5) rotate(-90)" font-size="9.6" font-weight="bold" text-anchor="middle" fill="#111" textLength="13" lengthAdjust="spacingAndGlyphs">Gene</text>
<line x1="401.85" y1="537.20" x2="401.85" y2="540.50" stroke="#222" stroke-width="1.0"/>
<text transform="translate(402.05,529.0) rotate(-45)" font-size="6.3" text-anchor="middle" fill="#111" dy="2.2">-0.5</text>
<line x1="413.60" y1="537.20" x2="413.60" y2="540.50" stroke="#222" stroke-width="1.0"/>
<text transform="translate(413.80,529.0) rotate(-45)" font-size="6.3" text-anchor="middle" fill="#111" dy="2.2">-0.4</text>
<line x1="425.35" y1="537.20" x2="425.35" y2="540.50" stroke="#222" stroke-width="1.0"/>
<text transform="translate(425.55,529.0) rotate(-45)" font-size="6.3" text-anchor="middle" fill="#111" dy="2.2">-0.3</text>
<line x1="437.10" y1="537.20" x2="437.10" y2="540.50" stroke="#222" stroke-width="1.0"/>
<text transform="translate(437.30,529.0) rotate(-45)" font-size="6.3" text-anchor="middle" fill="#111" dy="2.2">-0.2</text>
<line x1="448.85" y1="537.20" x2="448.85" y2="540.50" stroke="#222" stroke-width="1.0"/>
<text transform="translate(449.05,529.0) rotate(-45)" font-size="6.3" text-anchor="middle" fill="#111" dy="2.2">-0.1</text>
<line x1="460.60" y1="537.20" x2="460.60" y2="540.50" stroke="#222" stroke-width="1.0"/>
<text transform="translate(460.80,529.0) rotate(-45)" font-size="6.3" text-anchor="middle" fill="#111" dy="2.2">0.0</text>
<line x1="472.35" y1="537.20" x2="472.35" y2="540.50" stroke="#222" stroke-width="1.0"/>
<text transform="translate(472.55,529.0) rotate(-45)" font-size="6.3" text-anchor="middle" fill="#111" dy="2.2">0.1</text>
<line x1="484.10" y1="537.20" x2="484.10" y2="540.50" stroke="#222" stroke-width="1.0"/>
<text transform="translate(484.30,529.0) rotate(-45)" font-size="6.3" text-anchor="middle" fill="#111" dy="2.2">0.2</text>
<line x1="495.85" y1="537.20" x2="495.85" y2="540.50" stroke="#222" stroke-width="1.0"/>
<text transform="translate(496.05,529.0) rotate(-45)" font-size="6.3" text-anchor="middle" fill="#111" dy="2.2">0.3</text>
<line x1="507.60" y1="537.20" x2="507.60" y2="540.50" stroke="#222" stroke-width="1.0"/>
<text transform="translate(507.80,529.0) rotate(-45)" font-size="6.3" text-anchor="middle" fill="#111" dy="2.2">0.4</text>
<path d="M460.8,549.2 L506.00,549.20 L494.19,550.16 L489.37,551.13 L487.07,552.09 L485.15,553.05 L483.49,554.01 L482.52,554.98 L481.56,555.94 L480.60,556.90 L479.82,557.87 L479.34,558.83 L478.85,559.79 L478.37,560.75 L477.89,561.72 L477.41,562.68 L476.93,563.64 L476.45,564.61 L475.97,565.57 L475.48,566.53 L475.00,567.49 L474.68,568.46 L474.36,569.42 L474.04,570.38 L473.72,571.35 L473.40,572.31 L473.08,573.27 L472.76,574.23 L472.44,575.20 L472.15,576.16 L471.86,577.12 L471.57,578.09 L471.29,579.05 L471.00,580.01 L470.71,580.97 L470.42,581.94 L470.13,582.90 L469.84,583.86 L469.55,584.83 L469.29,585.79 L469.04,586.75 L468.79,587.71 L468.54,588.68 L468.29,589.64 L468.04,590.60 L467.79,591.57 L467.54,592.53 L467.29,593.49 L467.04,594.45 L466.79,595.42 L466.54,596.38 L466.29,597.34 L466.05,598.31 L465.81,599.27 L465.57,600.23 L465.33,601.19 L465.09,602.16 L464.85,603.12 L464.60,604.08 L464.36,605.05 L464.12,606.01 L463.88,606.97 L463.61,607.93 L463.31,608.90 L463.00,609.86 L462.70,610.82 L462.40,611.79 L462.09,612.75 L461.79,613.71 L461.48,614.67 L461.18,615.64 L460.97,616.60 L460.89,617.56 L460.81,618.53 L460.74,619.49 L460.66,620.45 L460.59,621.41 L460.51,622.38 L460.43,623.34 L460.36,624.30 L460.29,625.27 L460.25,626.23 L460.21,627.19 L460.17,628.15 L460.14,629.12 L460.10,630.08 L460.06,631.04 L460.02,632.01 L459.98,632.97 L459.94,633.93 L459.90,634.89 L459.87,635.86 L459.83,636.82 L459.79,637.78 L459.75,638.75 L459.71,639.71 L459.69,640.67 L459.68,641.63 L459.67,642.60 L459.66,643.56 L459.65,644.52 L459.65,645.49 L459.64,646.45 L459.63,647.41 L459.62,648.37 L459.61,649.34 L459.51,650.30 L459.23,651.26 L458.94,652.23 L458.66,653.19 L458.37,654.15 L458.09,655.11 L457.80,656.08 L457.40,657.04 L456.98,658.00 L456.56,658.97 L456.13,659.93 L455.71,660.89 L455.28,661.85 L454.81,662.82 L454.23,663.78 L453.65,664.74 L453.08,665.71 L452.50,666.67 L451.92,667.63 L451.34,668.59 L450.60,669.56 L449.83,670.52 L449.06,671.48 L448.29,672.45 L447.52,673.41 L446.75,674.37 L445.71,675.33 L444.16,676.30 L442.60,677.26 L440.86,678.22 L437.80,679.19 L434.75,680.15 L431.69,681.11 L424.57,682.07 L416.76,683.04 L402.50,684.00 L460.8,684.0Z" fill="#d0d0d0"/>
<line x1="460.8" y1="554.50" x2="483.00" y2="554.50" stroke="#dcc0c0" stroke-width="0.7"/>
<line x1="460.8" y1="555.50" x2="482.00" y2="555.50" stroke="#dcc0c0" stroke-width="0.7"/>
<line x1="460.8" y1="564.50" x2="476.50" y2="564.50" stroke="#dcc0c0" stroke-width="0.7"/>
<line x1="460.8" y1="570.50" x2="474.00" y2="570.50" stroke="#dcc0c0" stroke-width="0.7"/>
<line x1="460.8" y1="574.50" x2="472.67" y2="574.50" stroke="#dcc0c0" stroke-width="0.7"/>
<line x1="460.8" y1="586.50" x2="469.11" y2="586.50" stroke="#dcc0c0" stroke-width="0.7"/>
<line x1="460.8" y1="587.50" x2="468.85" y2="587.50" stroke="#dcc0c0" stroke-width="0.7"/>
<line x1="460.8" y1="588.50" x2="468.59" y2="588.50" stroke="#dcc0c0" stroke-width="0.7"/>
<line x1="460.8" y1="614.50" x2="461.54" y2="614.50" stroke="#dcc0c0" stroke-width="0.7"/>
<line x1="460.8" y1="617.50" x2="460.90" y2="617.50" stroke="#dcc0c0" stroke-width="0.7"/>
<line x1="460.8" y1="624.50" x2="460.34" y2="624.50" stroke="#dcc0c0" stroke-width="0.7"/>
<line x1="460.8" y1="626.50" x2="460.24" y2="626.50" stroke="#dcc0c0" stroke-width="0.7"/>
<line x1="460.8" y1="634.50" x2="459.92" y2="634.50" stroke="#dcc0c0" stroke-width="0.7"/>
<line x1="460.8" y1="636.50" x2="459.84" y2="636.50" stroke="#dcc0c0" stroke-width="0.7"/>
<line x1="460.8" y1="641.50" x2="459.69" y2="641.50" stroke="#dcc0c0" stroke-width="0.7"/>
<line x1="460.8" y1="655.50" x2="457.97" y2="655.50" stroke="#dcc0c0" stroke-width="0.7"/>
<line x1="460.8" y1="657.50" x2="457.20" y2="657.50" stroke="#dcc0c0" stroke-width="0.7"/>
<line x1="460.8" y1="658.50" x2="456.76" y2="658.50" stroke="#dcc0c0" stroke-width="0.7"/>
<line x1="460.8" y1="662.50" x2="455.00" y2="662.50" stroke="#dcc0c0" stroke-width="0.7"/>
<line x1="460.8" y1="663.50" x2="454.40" y2="663.50" stroke="#dcc0c0" stroke-width="0.7"/>
<line x1="460.8" y1="665.50" x2="453.20" y2="665.50" stroke="#dcc0c0" stroke-width="0.7"/>
<line x1="460.8" y1="668.50" x2="451.40" y2="668.50" stroke="#dcc0c0" stroke-width="0.7"/>
<line x1="460.8" y1="672.50" x2="448.25" y2="672.50" stroke="#dcc0c0" stroke-width="0.7"/>
<line x1="460.8" y1="675.50" x2="445.44" y2="675.50" stroke="#dcc0c0" stroke-width="0.7"/>
<line x1="460.8" y1="676.50" x2="443.83" y2="676.50" stroke="#dcc0c0" stroke-width="0.7"/>
<line x1="460.8" y1="679.50" x2="436.81" y2="679.50" stroke="#dcc0c0" stroke-width="0.7"/>
<line x1="460.8" y1="682.50" x2="421.11" y2="682.50" stroke="#dcc0c0" stroke-width="0.7"/>
<line x1="460.8" y1="683.50" x2="410.14" y2="683.50" stroke="#dcc0c0" stroke-width="0.7"/>
<rect x="396.8" y="540.7" width="115.6" height="149.5" fill="none" stroke="#1a1a1a" stroke-width="1.2"/>
<rect x="403.0" y="548.2" width="3" height="3" fill="#c9c9c9"/>
<rect x="403.0" y="557.0" width="3" height="3" fill="#a5001e"/>
<text x="409.40" y="551.70" font-size="5.9" fill="#222" stroke="#222" stroke-width="0.03" textLength="23.0" lengthAdjust="spacingAndGlyphs">All Genes</text>
<text x="409.40" y="560.60" font-size="5.9" fill="#222" stroke="#222" stroke-width="0.03" textLength="36.8" lengthAdjust="spacingAndGlyphs">Pathway Genes</text>
</svg>
</body></html>
